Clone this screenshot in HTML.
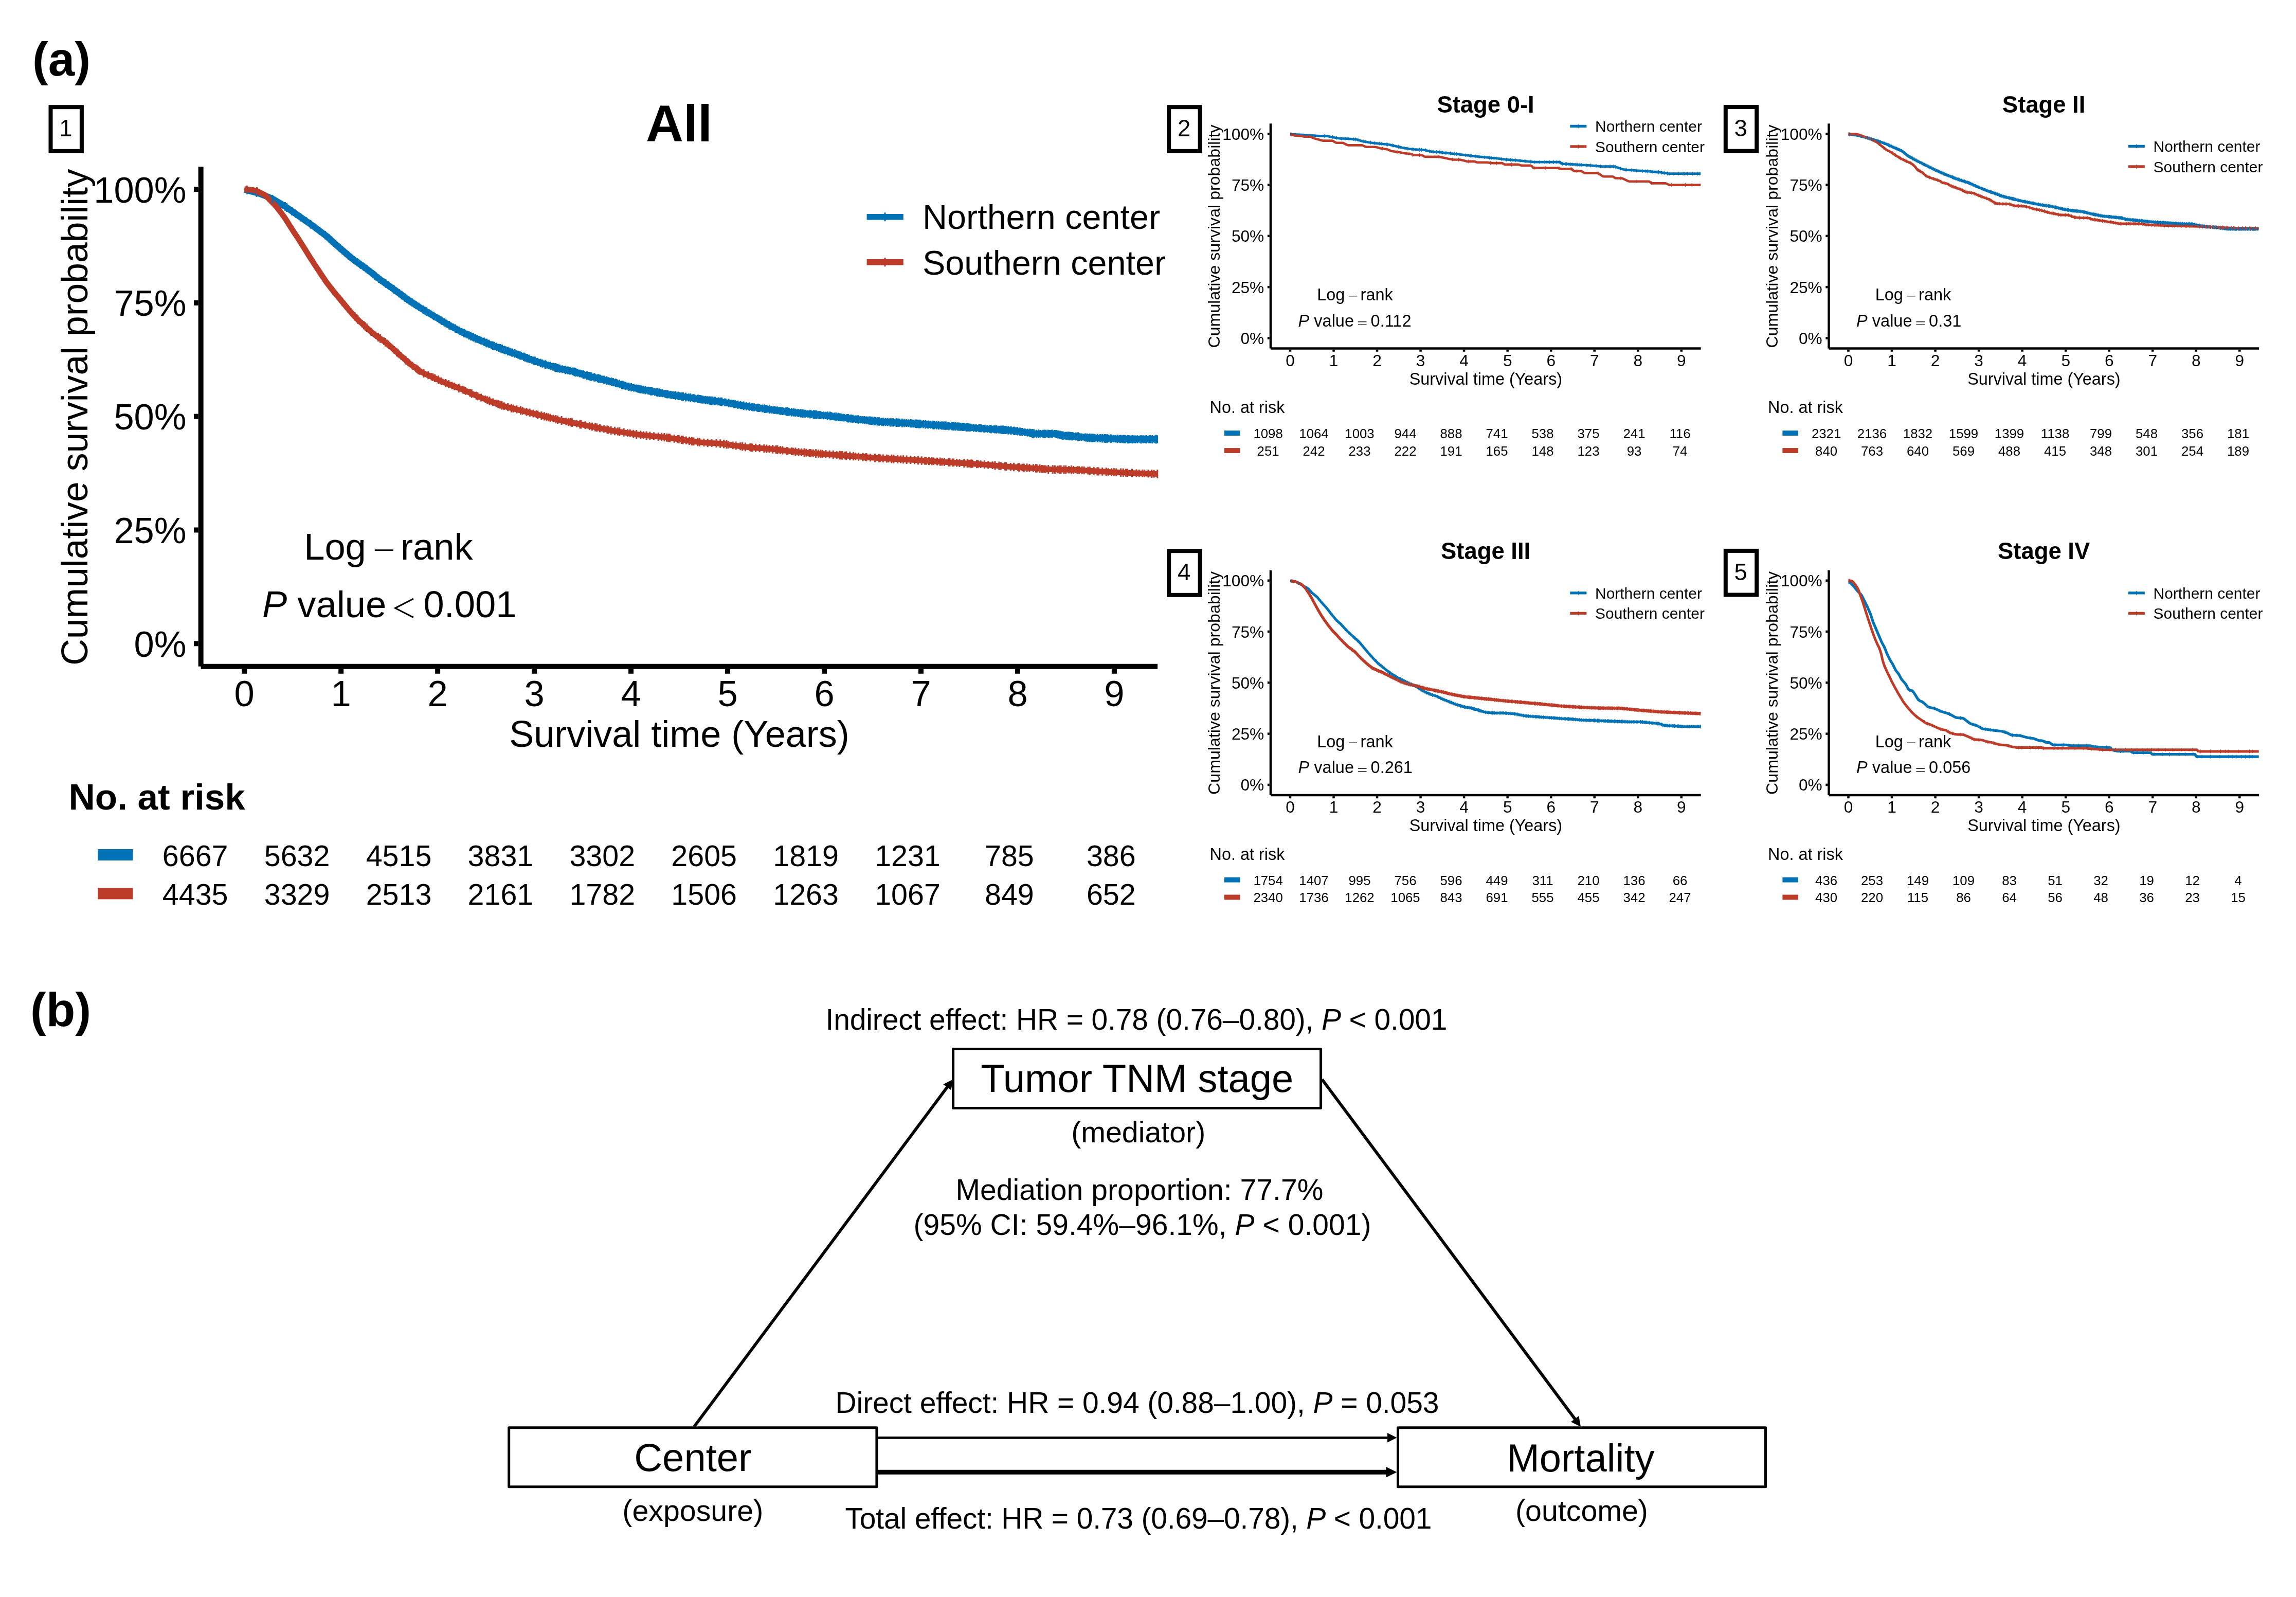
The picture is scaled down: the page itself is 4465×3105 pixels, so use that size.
<!DOCTYPE html>
<html lang="en"><head><meta charset="utf-8"><title>Figure</title>
<style>html,body{margin:0;padding:0;background:#fff}svg{display:block;will-change:transform}</style></head>
<body>
<svg width="4465" height="3105" viewBox="0 0 4465 3105" font-family='"Liberation Sans", sans-serif' fill="#000">
<rect width="4465" height="3105" fill="#fff"/>
<text x="63.0" y="146.5" font-size="92.50" text-anchor="start" font-weight="bold">(a)</text>
<text x="59.0" y="1995.0" font-size="92.50" text-anchor="start" font-weight="bold">(b)</text>
<path d="M475.2,368.5 L483.2,370.5 L491.2,372.6 L499.2,374.6 L507.2,377.3 L515.2,380.5 L523.2,383.7 L531.2,387.4 L539.2,392.2 L547.2,397.0 L555.2,401.8 L563.2,407.4 L571.2,413.0 L579.2,418.6 L587.2,424.2 L595.2,429.8 L603.2,435.4 L611.2,441.2 L619.2,447.2 L627.2,453.2 L635.2,459.3 L643.2,466.5 L651.2,473.7 L659.2,480.9 L667.2,487.8 L675.2,494.6 L683.2,501.4 L691.2,507.5 L699.2,513.1 L707.2,518.7 L715.2,524.5 L723.2,530.9 L731.2,537.3 L739.2,543.7 L747.2,549.4 L755.2,555.0 L763.2,560.6 L771.2,566.4 L779.2,572.4 L787.2,578.4 L795.2,584.1 L803.2,589.3 L811.2,594.5 L819.2,599.7 L827.2,604.5 L835.2,609.3 L843.2,614.1 L851.2,618.9 L859.2,623.8 L867.2,628.6 L875.2,633.2 L883.2,637.6 L891.2,642.0 L899.2,646.1 L907.2,649.8 L915.2,653.4 L923.2,657.0 L931.2,660.4 L939.2,663.8 L947.2,667.3 L955.2,670.6 L963.2,673.6 L971.2,676.6 L979.2,679.6 L987.2,682.5 L995.2,685.3 L1003.2,688.1 L1011.2,691.0 L1019.2,694.0 L1027.2,697.1 L1035.2,700.1 L1043.2,702.8 L1051.2,705.6 L1059.2,708.2 L1067.2,710.6 L1075.2,713.0 L1083.2,715.4 L1091.2,717.4 L1099.2,719.0 L1107.2,720.6 L1115.2,722.4 L1123.2,724.8 L1131.2,727.2 L1139.2,729.6 L1147.2,731.6 L1155.2,733.6 L1163.2,735.6 L1171.2,737.6 L1179.2,739.6 L1187.2,741.6 L1195.2,743.8 L1203.2,746.2 L1211.2,748.6 L1219.2,750.9 L1227.2,752.8 L1235.2,754.6 L1243.2,756.4 L1251.2,757.9 L1259.2,759.2 L1267.2,760.6 L1275.2,762.1 L1283.2,763.7 L1291.2,765.3 L1299.2,766.8 L1307.2,768.0 L1315.2,769.2 L1323.2,770.4 L1331.2,771.6 L1339.2,772.8 L1347.2,774.0 L1355.2,775.2 L1363.2,776.4 L1371.2,777.6 L1379.2,778.6 L1387.2,779.4 L1395.2,780.2 L1403.2,781.2 L1411.2,782.6 L1419.2,784.0 L1427.2,785.5 L1435.2,786.9 L1443.2,788.3 L1451.2,789.8 L1459.2,790.9 L1467.2,792.0 L1475.2,793.1 L1483.2,794.2 L1491.2,795.3 L1499.2,796.5 L1507.2,797.5 L1515.2,798.5 L1523.2,799.5 L1531.2,800.4 L1539.2,801.4 L1547.2,802.3 L1555.2,803.3 L1563.2,804.1 L1571.2,804.8 L1579.2,805.5 L1587.2,806.3 L1595.2,807.0 L1603.2,807.7 L1611.2,808.4 L1619.2,809.4 L1627.2,810.4 L1635.2,811.4 L1643.2,812.4 L1651.2,813.4 L1659.2,814.4 L1667.2,815.3 L1675.2,816.1 L1683.2,816.9 L1691.2,817.7 L1699.2,818.5 L1707.2,819.3 L1715.2,820.1 L1723.2,820.6 L1731.2,821.0 L1739.2,821.4 L1747.2,821.8 L1755.2,822.2 L1763.2,822.6 L1771.2,823.1 L1779.2,823.7 L1787.2,824.2 L1795.2,824.8 L1803.2,825.3 L1811.2,825.9 L1819.2,826.5 L1827.2,827.0 L1835.2,827.5 L1843.2,828.1 L1851.2,828.6 L1859.2,829.1 L1867.2,829.7 L1875.2,830.2 L1883.2,830.9 L1891.2,831.6 L1899.2,832.2 L1907.2,832.8 L1915.2,833.4 L1923.2,834.0 L1931.2,834.5 L1939.2,835.0 L1947.2,835.5 L1955.2,836.0 L1963.2,836.6 L1971.2,837.5 L1979.2,838.5 L1987.2,839.4 L1995.2,840.7 L2003.2,841.9 L2011.2,843.1 L2019.2,843.4 L2027.2,843.4 L2035.2,843.4 L2043.2,843.4 L2051.2,843.4 L2059.2,845.1 L2067.2,846.9 L2075.2,847.4 L2083.2,848.0 L2091.2,848.6 L2099.2,849.3 L2107.2,850.1 L2115.2,850.9 L2123.2,851.4 L2131.2,851.7 L2139.2,852.0 L2147.2,852.3 L2155.2,852.5 L2163.2,852.8 L2171.2,853.1 L2179.2,853.4 L2187.2,853.7 L2195.2,854.1 L2203.2,854.1 L2211.2,854.1 L2219.2,854.1 L2227.2,854.1 L2235.2,854.1 L2243.2,854.1 L2251.1,854.1" fill="none" stroke="#0072B5" stroke-width="12.60" stroke-linejoin="round"/>
<path d="M475.2,367.6 L483.2,368.5 L491.2,369.5 L499.2,371.2 L507.2,375.2 L515.2,379.2 L523.2,386.9 L531.2,395.1 L539.2,403.9 L547.2,414.3 L555.2,425.5 L563.2,438.3 L571.2,450.8 L579.2,462.8 L587.2,475.3 L595.2,488.1 L603.2,500.9 L611.2,513.4 L619.2,525.4 L627.2,537.4 L635.2,549.2 L643.2,559.6 L651.2,569.6 L659.2,579.2 L667.2,588.8 L675.2,598.4 L683.2,608.0 L691.2,616.7 L699.2,624.7 L707.2,632.0 L715.2,639.2 L723.2,646.4 L731.2,652.6 L739.2,658.2 L747.2,663.8 L755.2,669.9 L763.2,677.1 L771.2,684.3 L779.2,691.5 L787.2,698.7 L795.2,705.6 L803.2,712.0 L811.2,717.8 L819.2,723.2 L827.2,727.2 L835.2,730.8 L843.2,734.0 L851.2,737.9 L859.2,741.7 L867.2,744.8 L875.2,747.9 L883.2,751.1 L891.2,754.2 L899.2,757.3 L907.2,760.6 L915.2,764.3 L923.2,767.9 L931.2,771.3 L939.2,774.5 L947.2,777.7 L955.2,780.9 L963.2,783.7 L971.2,786.5 L979.2,789.3 L987.2,791.6 L995.2,793.6 L1003.2,795.6 L1011.2,797.6 L1019.2,799.6 L1027.2,801.6 L1035.2,803.6 L1043.2,805.6 L1051.2,807.6 L1059.2,809.6 L1067.2,811.6 L1075.2,813.6 L1083.2,815.6 L1091.2,817.4 L1099.2,819.0 L1107.2,820.6 L1115.2,822.2 L1123.2,823.8 L1131.2,825.4 L1139.2,827.0 L1147.2,828.6 L1155.2,830.2 L1163.2,831.8 L1171.2,833.4 L1179.2,835.0 L1187.2,836.6 L1195.2,838.0 L1203.2,839.2 L1211.2,840.4 L1219.2,841.6 L1227.2,842.8 L1235.2,844.0 L1243.2,845.2 L1251.2,846.1 L1259.2,846.9 L1267.2,847.7 L1275.2,848.5 L1283.2,849.3 L1291.2,850.1 L1299.2,851.0 L1307.2,852.2 L1315.2,853.4 L1323.2,854.6 L1331.2,855.8 L1339.2,857.0 L1347.2,858.2 L1355.2,859.1 L1363.2,859.9 L1371.2,860.7 L1379.2,861.3 L1387.2,861.7 L1395.2,862.1 L1403.2,862.7 L1411.2,863.8 L1419.2,865.0 L1427.2,866.1 L1435.2,867.1 L1443.2,868.2 L1451.2,869.2 L1459.2,869.9 L1467.2,870.5 L1475.2,871.2 L1483.2,871.8 L1491.2,872.5 L1499.2,873.1 L1507.2,873.8 L1515.2,874.8 L1523.2,875.7 L1531.2,876.7 L1539.2,877.5 L1547.2,878.3 L1555.2,879.1 L1563.2,879.8 L1571.2,880.4 L1579.2,881.0 L1587.2,881.6 L1595.2,882.2 L1603.2,882.8 L1611.2,883.4 L1619.2,884.0 L1627.2,884.6 L1635.2,885.2 L1643.2,885.8 L1651.2,886.4 L1659.2,887.0 L1667.2,887.6 L1675.2,888.2 L1683.2,888.8 L1691.2,889.4 L1699.2,890.0 L1707.2,890.6 L1715.2,891.2 L1723.2,891.6 L1731.2,892.0 L1739.2,892.4 L1747.2,892.8 L1755.2,893.2 L1763.2,893.7 L1771.2,894.1 L1779.2,894.6 L1787.2,895.1 L1795.2,895.6 L1803.2,896.1 L1811.2,896.6 L1819.2,897.1 L1827.2,897.6 L1835.2,898.1 L1843.2,898.7 L1851.2,899.2 L1859.2,899.7 L1867.2,900.2 L1875.2,900.7 L1883.2,901.2 L1891.2,901.7 L1899.2,902.2 L1907.2,902.7 L1915.2,903.3 L1923.2,904.0 L1931.2,904.7 L1939.2,905.4 L1947.2,906.1 L1955.2,906.8 L1963.2,907.5 L1971.2,908.0 L1979.2,908.5 L1987.2,909.0 L1995.2,909.5 L2003.2,909.9 L2011.2,910.3 L2019.2,910.9 L2027.2,911.6 L2035.2,912.2 L2043.2,912.6 L2051.2,912.8 L2059.2,912.9 L2067.2,913.1 L2075.2,913.3 L2083.2,913.4 L2091.2,913.6 L2099.2,914.1 L2107.2,914.6 L2115.2,915.1 L2123.2,915.6 L2131.2,916.1 L2139.2,916.7 L2147.2,917.1 L2155.2,917.5 L2163.2,917.9 L2171.2,918.3 L2179.2,918.7 L2187.2,919.1 L2195.2,919.5 L2203.2,919.8 L2211.2,920.1 L2219.2,920.4 L2227.2,920.7 L2235.2,920.9 L2243.2,921.2 L2251.1,921.5" fill="none" stroke="#BC3C29" stroke-width="11.00" stroke-linejoin="round"/>
<path d="M480.7,361.9v15.9M498.9,366.2v16.6M530.0,378.7v16.3M548.5,390.5v14.5M554.4,392.9v16.9M557.5,395.0v16.9M567.5,402.0v16.8M574.7,407.4v16.2M584.7,414.4v16.2M595.7,422.3v15.7M604.0,427.6v16.9M612.2,434.4v15.2M621.8,441.5v15.3M632.5,449.0v16.5M640.3,455.5v16.8M644.8,459.6v16.7M649.4,464.2v15.6M652.0,466.8v15.3M654.1,469.1v14.5M659.2,472.8v16.2M661.1,474.3v16.3M666.0,478.6v16.4M668.1,481.2v14.6M671.0,483.2v15.8M674.2,486.3v14.9M677.6,488.4v16.6M681.1,492.1v15.0M685.6,495.0v16.5M688.5,497.9v15.1M690.0,498.9v15.3M694.9,502.1v16.0M697.3,503.9v15.7M699.8,505.6v15.8M701.9,507.0v16.0M706.4,510.3v15.7M708.2,511.7v15.6M712.0,514.4v15.5M714.4,515.6v16.7M718.6,519.9v14.6M722.4,522.2v16.2M725.7,525.1v15.6M728.6,526.8v16.9M731.4,529.5v15.9M736.7,533.4v16.6M740.3,536.7v15.5M746.1,541.0v15.2M750.0,543.0v16.8M753.9,546.4v15.3M755.7,547.2v16.2M759.5,550.1v15.8M763.5,553.4v14.8M766.0,554.3v16.7M770.8,558.6v14.9M776.2,562.1v16.2M781.2,565.5v16.7M784.0,568.6v14.7M787.7,570.4v16.7M790.8,572.7v16.5M795.8,576.5v16.0M798.9,578.9v15.3M801.6,580.3v15.8M804.7,582.8v15.0M806.2,583.9v14.8M808.1,585.1v14.8M809.3,585.4v15.8M814.4,588.4v16.3M817.8,591.4v14.7M823.3,593.7v16.9M825.9,595.9v15.7M827.7,596.9v15.9M829.5,597.5v16.8M834.6,601.6v14.7M837.9,603.5v14.8M839.3,604.5v14.5M843.4,606.1v16.2M845.9,608.4v14.6M851.2,611.6v14.5M854.1,613.0v15.4M858.3,615.3v15.9M859.9,616.4v15.7M864.3,619.0v15.7M868.2,621.6v15.1M873.7,624.1v16.6M877.0,626.8v14.8M880.8,628.7v15.1M885.5,630.6v16.6M888.9,633.5v14.5M893.5,634.9v16.4M897.8,638.1v14.6M902.4,639.2v16.7M905.0,641.1v15.2M908.6,642.8v15.1M911.8,643.5v16.7M915.6,645.5v16.3M918.8,647.6v14.8M920.7,647.8v16.1M924.7,649.2v16.9M928.1,651.1v16.0M932.0,653.2v15.1M934.0,654.2v14.9M935.8,654.9v15.0M941.5,656.5v16.6M945.4,658.5v16.0M946.9,658.7v16.9M950.9,660.6v16.5M955.5,663.5v14.5M958.1,663.5v16.4M960.7,664.8v15.7M965.7,666.3v16.4M970.5,668.6v15.4M973.2,669.0v16.6M976.5,670.1v17.0M980.8,671.9v16.5M983.2,673.3v15.6M987.4,674.3v16.6M989.1,675.6v15.0M991.9,676.4v15.4M994.7,677.5v15.2M996.0,677.4v16.4M1001.0,679.0v16.6M1004.5,681.3v14.6M1007.7,681.7v16.0M1011.0,682.5v16.8M1013.5,684.1v15.5M1018.6,685.6v16.4M1020.4,686.3v16.4M1023.0,687.7v15.6M1025.2,687.9v16.8M1028.9,689.5v16.4M1033.8,692.0v15.2M1038.0,693.2v15.7M1040.4,693.6v16.5M1045.6,695.8v15.7M1051.2,697.4v16.4M1054.9,698.9v15.9M1060.4,700.2v16.7M1062.2,701.4v15.4M1066.4,703.0v14.8M1070.5,703.2v16.9M1075.5,705.4v15.4M1079.6,706.0v16.6M1080.9,706.3v16.8M1083.9,707.4v16.5M1085.5,708.3v15.4M1088.5,708.8v16.0M1093.4,710.2v15.4M1098.7,711.5v14.8M1100.0,710.9v16.6M1104.4,712.4v15.3M1108.4,713.3v15.2M1113.3,714.4v15.2M1116.7,714.5v16.8M1118.9,715.2v16.7M1120.2,716.4v15.0M1123.1,717.2v15.1M1127.2,718.6v14.8M1130.8,719.7v14.6M1134.1,719.9v16.3M1135.8,720.9v15.5M1141.5,721.9v16.6M1145.3,723.0v16.3M1147.7,723.5v16.5M1149.9,723.9v16.8M1155.6,725.6v16.2M1157.2,726.5v15.2M1162.4,727.6v15.6M1164.2,727.6v16.5M1167.3,728.6v16.1M1170.7,730.2v14.6M1174.5,730.6v15.6M1179.9,731.5v16.5M1183.7,733.3v14.9M1189.1,733.9v16.5M1192.5,735.1v16.0M1197.1,736.1v16.5M1199.3,737.1v15.8M1204.5,738.2v16.8M1209.6,740.2v15.7M1211.5,740.4v16.5M1214.4,741.7v15.6M1216.8,742.6v15.3M1221.5,743.8v15.3M1223.0,743.7v16.2M1227.5,744.9v16.0M1232.5,746.6v14.8M1237.4,747.5v15.1M1240.8,747.8v16.0M1243.9,748.5v16.0M1245.8,749.2v15.5M1247.2,749.6v15.0M1250.7,750.1v15.3M1254.9,750.4v16.2M1260.4,751.7v15.4M1263.0,752.3v15.1M1265.5,752.0v16.7M1267.3,752.5v16.2M1268.9,753.4v15.0M1273.4,754.1v15.4M1277.4,754.6v15.8M1278.7,754.4v16.8M1282.1,755.3v16.4M1284.6,756.6v14.8M1288.1,757.0v15.3M1293.2,758.1v15.1M1295.3,758.5v15.2M1297.1,758.4v16.1M1298.9,759.0v15.6M1303.4,759.8v15.2M1306.6,760.4v15.1M1310.4,761.0v15.0M1313.8,760.5v17.0M1318.8,761.4v16.7M1322.2,762.5v15.4M1325.9,762.7v16.2M1328.5,763.0v16.5M1333.6,763.5v16.9M1339.0,764.9v15.7M1342.8,765.1v16.5M1347.9,766.0v16.1M1350.9,766.7v15.7M1356.7,767.4v16.0M1358.3,767.2v16.9M1361.4,768.1v16.0M1363.8,768.5v16.0M1366.9,769.2v15.5M1370.8,770.3v14.5M1372.3,769.7v16.0M1376.0,770.3v15.7M1379.6,770.5v16.3M1382.3,770.7v16.3M1384.9,771.1v16.2M1389.0,771.2v16.7M1391.4,771.6v16.5M1397.0,772.5v15.8M1400.8,772.8v16.2M1403.8,772.8v17.0M1409.5,774.6v15.4M1411.5,775.3v14.7M1417.1,775.2v16.9M1421.7,777.0v14.9M1423.2,777.5v14.5M1427.0,777.4v16.1M1429.4,778.2v15.3M1435.0,778.8v16.2M1439.9,780.0v15.4M1442.6,780.9v14.6M1446.1,780.4v16.8M1451.5,781.7v16.3M1457.1,782.3v16.5M1462.2,783.8v15.1M1463.6,783.4v16.2M1466.6,784.2v15.5M1471.9,785.1v15.1M1474.1,784.7v16.4M1477.1,785.8v15.2M1482.8,786.6v15.1M1486.5,786.2v16.8M1489.3,787.4v15.3M1491.1,788.0v14.6M1496.5,787.9v16.3M1500.4,789.2v14.9M1504.0,789.7v14.9M1507.1,790.0v14.9M1511.2,790.3v15.3M1515.6,791.2v14.7M1518.7,791.2v15.5M1522.2,791.8v15.2M1527.4,792.2v15.4M1529.8,791.8v16.9M1531.6,792.0v16.8M1534.3,793.1v15.3M1539.4,793.1v16.7M1543.5,794.0v15.7M1546.8,794.6v15.4M1551.0,795.4v14.7M1553.1,795.0v16.1M1557.5,795.6v15.8M1561.3,796.0v15.9M1565.0,796.6v15.3M1566.6,797.0v14.9M1571.2,797.4v14.7M1575.1,796.7v16.8M1577.7,798.1v14.6M1581.9,797.6v16.4M1583.4,797.6v16.6M1585.6,797.7v16.9M1587.8,798.0v16.8M1591.3,799.3v14.7M1594.4,799.1v15.8M1596.2,799.8v14.6M1601.6,799.9v15.3M1605.6,800.6v14.5M1609.2,800.0v16.5M1614.2,800.3v16.9M1616.5,801.3v15.5M1617.9,802.0v14.5M1622.6,802.2v15.3M1625.9,801.9v16.6M1630.0,802.4v16.7M1633.2,803.6v15.1M1635.5,803.9v15.1M1639.9,804.6v14.8M1641.6,804.9v14.6M1647.0,805.0v15.7M1649.5,804.9v16.7M1653.4,806.1v15.2M1655.4,806.1v15.7M1658.6,806.6v15.4M1663.2,807.6v14.5M1666.8,807.4v15.7M1669.2,807.2v16.6M1674.0,808.7v14.5M1678.1,809.1v14.6M1681.5,808.9v15.6M1685.5,809.4v15.4M1690.0,809.5v16.1M1691.9,809.6v16.2M1694.4,809.9v16.3M1696.0,810.1v16.1M1700.0,810.2v16.7M1702.3,810.7v16.3M1706.1,810.9v16.6M1707.4,811.6v15.5M1709.6,811.3v16.5M1714.7,812.5v15.2M1716.0,812.7v14.8M1717.9,812.0v16.6M1722.1,812.8v15.4M1726.2,812.8v15.8M1731.1,812.7v16.5M1732.4,812.7v16.7M1736.7,813.0v16.6M1741.0,814.0v14.9M1743.2,813.2v16.7M1746.6,813.4v16.7M1749.2,813.9v15.9M1754.3,813.7v17.0M1758.3,814.2v16.4M1762.4,815.1v15.0M1766.4,815.3v15.0M1770.4,814.8v16.5M1772.6,815.2v16.1M1775.7,815.8v15.4M1780.1,815.4v16.7M1783.1,815.5v16.9M1785.8,816.6v15.1M1787.3,815.7v17.0M1788.6,815.8v17.0M1790.6,816.6v15.7M1795.6,817.0v15.6M1799.6,816.7v16.7M1803.2,818.0v14.6M1805.0,817.4v16.1M1809.8,818.1v15.4M1814.6,817.8v16.7M1816.5,817.9v16.8M1817.8,818.6v15.5M1821.6,818.5v16.3M1825.4,818.5v16.8M1829.4,819.7v14.8M1831.8,819.2v16.2M1833.2,820.0v14.7M1835.8,819.2v16.6M1839.4,819.5v16.6M1843.8,820.2v15.8M1845.2,819.9v16.7M1850.9,820.6v16.0M1853.2,820.4v16.6M1855.1,820.5v16.7M1858.5,820.8v16.4M1862.8,821.2v16.4M1865.7,821.6v15.9M1868.6,821.9v15.8M1872.4,822.1v15.9M1875.3,822.7v15.0M1879.0,822.4v16.3M1880.5,822.5v16.4M1882.8,822.8v16.0M1885.5,823.4v15.5M1887.7,823.8v14.9M1893.5,824.0v15.6M1898.1,824.4v15.5M1903.9,824.8v15.5M1905.6,825.1v15.1M1907.9,825.1v15.5M1913.3,825.9v14.8M1915.1,825.8v15.2M1920.3,826.0v15.5M1924.6,826.5v15.1M1927.3,826.0v16.4M1931.9,827.3v14.5M1934.7,827.0v15.5M1938.0,827.0v15.8M1942.6,827.7v15.1M1946.1,827.6v15.7M1948.5,827.4v16.3M1950.8,827.3v16.8M1952.6,827.9v15.8M1954.2,828.1v15.7M1955.6,828.1v15.8M1957.4,828.7v14.9M1961.0,828.0v16.8M1966.0,828.5v16.8M1971.1,830.0v15.0M1972.5,829.5v16.4M1974.7,830.7v14.6M1977.1,830.7v15.1M1978.8,830.3v16.3M1983.6,831.2v15.7M1987.5,831.9v15.2M1992.9,832.9v14.9M1998.6,833.6v15.2M2002.8,833.5v16.6M2004.7,834.5v15.2M2007.6,834.1v16.9M2010.5,834.5v17.0M2015.5,835.4v15.7M2019.6,834.9v16.9M2022.9,836.0v14.8M2028.3,835.7v15.5M2030.9,835.6v15.6M2033.5,835.6v15.5M2038.3,835.5v15.7M2039.8,835.8v15.1M2041.6,836.1v14.6M2044.7,836.0v14.7M2046.2,835.2v16.4M2050.5,836.1v14.5M2053.6,836.0v15.8M2055.2,836.8v15.0M2057.5,836.9v15.6M2061.1,837.5v16.0M2062.8,838.4v15.1M2064.7,838.2v16.3M2067.3,838.8v16.2M2071.2,839.8v14.7M2073.8,839.5v15.7M2077.1,839.2v16.7M2080.0,839.4v16.8M2081.7,840.1v15.6M2084.8,839.9v16.5M2086.8,840.6v15.4M2092.2,840.8v15.7M2096.5,840.6v16.9M2099.6,841.7v15.2M2103.3,842.4v14.7M2108.8,843.0v14.5M2111.1,842.4v16.2M2114.6,842.8v16.1M2116.5,843.7v14.7M2119.3,842.8v16.8M2122.7,843.2v16.3M2124.4,843.2v16.5M2126.2,843.6v15.7M2129.1,843.7v15.7M2134.1,843.6v16.4M2139.6,843.9v16.2M2143.3,843.8v16.8M2147.7,843.9v16.9M2149.6,843.9v17.0M2152.9,844.0v17.0M2154.7,845.2v14.5M2159.4,844.5v16.3M2161.6,844.7v16.1M2165.4,845.5v14.8M2168.9,845.7v14.7M2172.9,844.9v16.6M2176.9,845.8v15.0M2179.9,845.5v15.8M2183.7,845.7v15.7M2185.3,845.4v16.5M2188.3,845.7v16.2M2192.5,845.7v16.5M2195.1,845.9v16.3M2197.2,846.8v14.6M2199.8,846.7v14.7M2202.2,845.8v16.5M2204.9,846.6v14.9M2207.8,846.4v15.5M2211.8,846.2v15.9M2217.6,846.6v15.0M2219.1,845.9v16.5M2222.9,846.2v15.8M2226.4,846.7v14.7M2229.0,845.9v16.4M2234.6,846.8v14.6M2236.6,846.1v16.0M2240.9,846.0v16.2M2246.0,846.4v15.4M2248.3,845.6v17.0M2250.6,846.3v15.7" fill="none" stroke="#0072B5" stroke-width="3.00"/>
<path d="M480.2,360.8v14.6M499.4,363.7v15.2M538.1,394.6v16.2M547.2,406.3v16.0M554.9,417.3v15.7M567.6,437.0v16.4M583.2,461.2v15.6M597.0,482.4v17.0M612.5,507.6v15.4M622.7,522.5v16.1M640.1,548.2v14.9M647.8,556.9v17.0M652.4,563.2v15.7M655.5,567.2v15.1M661.0,573.5v15.7M665.8,578.8v16.6M670.5,584.7v16.0M672.8,588.1v14.8M677.0,592.8v15.3M682.3,599.0v15.6M689.9,607.1v16.3M693.4,610.9v15.9M695.8,612.9v16.9M704.4,622.1v14.7M707.6,624.2v16.4M710.6,626.6v16.9M713.3,629.1v16.8M722.0,637.6v15.4M730.4,644.6v14.7M735.5,647.3v16.6M739.6,650.1v16.7M746.7,656.1v14.6M749.4,657.1v16.7M753.3,660.6v15.6M755.6,662.2v16.2M763.6,670.1v14.8M766.8,673.0v14.8M771.4,676.0v17.0M773.7,678.4v16.2M776.3,681.4v15.0M780.3,685.1v14.8M787.7,691.8v14.6M789.9,692.9v16.3M793.6,696.8v14.8M796.2,698.6v15.5M802.1,703.4v15.3M808.5,708.3v15.2M810.9,709.4v16.2M813.2,711.0v16.4M815.9,713.4v15.3M824.0,717.4v16.5M832.7,722.1v15.1M839.1,725.1v14.6M841.5,726.0v14.6M845.6,727.5v15.4M852.6,730.2v16.7M858.2,733.8v14.8M866.9,737.1v15.2M872.6,739.1v15.5M879.0,742.2v14.5M883.7,743.8v15.0M892.3,746.3v16.7M900.1,750.1v15.1M902.7,751.4v14.6M905.2,751.9v15.8M914.0,755.9v15.7M917.2,757.1v16.3M926.1,761.5v15.3M928.9,762.4v15.8M935.6,765.6v14.8M944.0,768.9v15.1M947.7,770.4v14.9M952.0,771.2v16.9M958.6,774.6v15.0M965.0,776.9v14.9M968.6,777.8v15.5M970.8,778.7v15.3M972.7,779.6v14.8M975.9,779.8v16.8M980.3,782.3v14.6M987.6,784.1v15.2M994.3,785.0v16.7M998.0,786.5v15.6M1004.8,788.3v15.4M1012.5,789.5v16.8M1016.3,791.5v14.8M1024.1,793.0v15.7M1030.2,794.6v15.5M1037.1,796.6v15.0M1043.1,798.0v15.1M1045.9,798.6v15.3M1052.9,800.1v15.8M1058.4,801.2v16.3M1063.0,802.8v15.5M1066.6,803.6v15.7M1070.1,804.4v15.9M1075.9,806.5v14.6M1080.9,806.9v16.3M1084.5,808.0v15.9M1092.1,809.1v17.0M1100.9,812.0v14.8M1105.3,812.5v15.4M1109.1,812.9v16.1M1112.4,813.2v16.9M1121.3,816.1v14.6M1127.9,816.3v16.9M1130.0,816.7v16.9M1138.1,819.2v15.1M1146.4,820.6v15.7M1151.6,821.7v15.5M1157.6,822.6v16.1M1160.8,823.2v16.3M1166.5,824.5v15.9M1174.3,826.7v14.6M1181.0,827.3v16.0M1182.9,827.9v15.6M1188.1,828.6v16.4M1195.4,829.8v16.5M1201.4,831.3v15.2M1204.8,831.0v16.9M1213.1,832.6v16.2M1220.3,834.2v15.2M1225.2,835.1v14.7M1231.8,835.7v15.6M1237.7,835.9v17.0M1245.8,837.4v16.2M1251.4,838.6v15.0M1257.0,838.4v16.6M1263.8,839.4v15.9M1271.5,840.4v15.4M1280.3,841.0v15.9M1286.6,841.5v16.2M1292.0,842.0v16.3M1296.5,842.7v16.0M1299.8,843.2v15.8M1302.7,843.3v16.4M1311.2,845.0v15.7M1318.2,846.1v15.4M1320.3,846.3v15.7M1325.4,846.9v16.0M1328.1,846.9v16.9M1334.4,848.6v15.3M1340.4,849.1v16.0M1344.9,849.8v16.2M1346.8,850.4v15.5M1349.1,850.5v15.8M1357.0,851.1v16.3M1360.5,851.3v16.6M1369.0,852.7v15.6M1376.2,852.9v16.3M1384.0,854.0v15.2M1393.0,854.0v15.9M1400.7,854.3v16.4M1407.5,855.1v16.4M1413.1,855.9v16.5M1416.6,857.3v14.7M1425.2,858.4v14.8M1431.1,858.6v16.0M1439.7,860.2v15.1M1443.8,860.1v16.4M1449.6,860.5v16.9M1458.2,862.6v14.5M1460.1,862.0v15.9M1462.8,862.5v15.4M1469.7,862.8v15.9M1477.1,863.3v16.0M1485.9,864.1v15.9M1490.8,864.4v16.2M1496.1,865.3v15.1M1502.7,865.1v16.6M1509.0,866.0v16.1M1512.1,865.9v16.9M1517.3,866.9v16.2M1521.7,867.5v16.0M1529.8,868.9v15.2M1531.8,869.5v14.6M1539.3,870.1v14.9M1542.2,870.4v14.8M1547.0,870.3v16.0M1553.0,871.2v15.3M1558.6,872.0v14.9M1564.1,871.4v16.9M1568.0,872.5v15.3M1574.1,873.1v15.0M1576.8,873.0v15.6M1581.3,873.8v14.8M1586.6,873.2v16.8M1591.6,874.2v15.5M1596.0,874.2v16.2M1599.6,874.7v15.6M1605.9,875.1v15.8M1613.2,875.8v15.5M1620.4,875.8v16.7M1627.2,877.2v14.8M1632.5,876.6v16.8M1635.5,877.2v16.0M1638.2,877.1v16.6M1643.4,878.3v15.0M1645.8,877.5v17.0M1652.8,878.1v16.8M1659.6,878.8v16.5M1663.8,879.9v14.8M1669.6,879.9v15.8M1678.1,880.5v15.9M1683.1,881.6v14.5M1685.0,880.9v16.0M1692.6,881.9v15.3M1701.5,881.9v16.5M1708.9,882.6v16.3M1711.4,883.6v14.6M1717.3,883.6v15.4M1724.4,883.8v15.8M1727.8,884.5v14.6M1733.9,883.8v16.6M1737.9,883.9v16.9M1745.7,884.5v16.5M1751.6,885.5v15.0M1756.7,885.2v16.1M1763.1,885.4v16.5M1770.8,886.3v15.6M1778.7,886.8v15.6M1785.4,886.6v16.7M1792.2,887.2v16.5M1798.5,888.1v15.3M1801.2,888.3v15.4M1806.5,888.3v15.9M1812.1,888.8v15.8M1815.7,889.5v14.7M1822.5,889.7v15.1M1828.3,889.5v16.3M1831.8,890.3v15.1M1836.4,890.3v15.8M1844.7,890.7v16.2M1847.0,891.0v15.8M1852.4,891.4v15.8M1854.5,891.6v15.5M1860.5,891.9v15.7M1865.9,892.2v15.9M1874.8,892.3v16.7M1881.2,892.9v16.3M1883.8,893.7v15.1M1885.8,894.0v14.7M1888.5,893.3v16.4M1891.2,893.8v15.8M1899.5,894.2v16.1M1901.6,894.9v14.9M1907.0,895.3v14.8M1914.5,895.2v16.1M1921.8,896.3v15.1M1930.1,897.2v14.8M1935.0,896.6v16.9M1942.9,897.4v16.6M1946.3,898.3v15.4M1954.4,899.0v15.4M1956.7,898.6v16.7M1965.3,899.9v15.4M1971.5,899.8v16.4M1979.5,901.2v14.7M1981.8,900.2v17.0M1987.9,901.8v14.5M1991.4,901.6v15.3M1997.1,901.2v16.7M2001.9,902.1v15.5M2009.5,902.3v15.8M2014.4,902.2v16.6M2016.7,903.0v15.5M2022.0,903.1v16.1M2025.5,903.9v15.1M2028.1,904.2v15.0M2031.4,904.6v14.6M2033.7,904.7v14.8M2038.7,903.9v17.0M2047.2,904.2v16.9M2051.4,904.7v16.2M2057.3,905.5v14.8M2060.7,904.7v16.5M2063.1,904.7v16.6M2069.1,904.8v16.7M2072.8,904.9v16.7M2078.7,906.0v14.6M2083.4,905.0v16.8M2087.6,905.8v15.5M2095.0,906.3v15.1M2098.6,906.6v15.0M2104.2,906.7v15.4M2108.2,907.1v15.2M2115.9,907.6v15.0M2119.3,907.3v16.2M2127.2,907.7v16.4M2133.9,908.2v16.2M2136.2,908.4v16.1M2143.7,909.1v15.7M2151.2,909.3v16.0M2155.1,910.2v14.6M2161.5,910.2v15.3M2166.4,910.2v15.8M2170.7,910.6v15.3M2179.6,910.6v16.3M2184.4,910.8v16.3M2189.5,911.6v15.2M2192.6,911.4v15.9M2201.5,911.6v16.3M2209.9,912.6v15.0M2215.2,912.9v14.6M2221.8,913.1v14.8M2225.4,913.3v14.7M2232.9,913.3v15.1M2239.6,913.1v15.8M2244.0,913.7v15.0M2250.8,913.1v16.8" fill="none" stroke="#BC3C29" stroke-width="3.00"/>
<line x1="390.65" y1="323.90" x2="390.65" y2="1295.70" stroke="#000" stroke-width="10.00" />
<line x1="390.65" y1="1295.70" x2="2251.10" y2="1295.70" stroke="#000" stroke-width="10.00" />
<line x1="377.00" y1="368.00" x2="385.70" y2="368.00" stroke="#000" stroke-width="10.00" />
<text x="362.5" y="393.6" font-size="70.50" text-anchor="end">100%</text>
<line x1="377.00" y1="588.83" x2="385.70" y2="588.83" stroke="#000" stroke-width="10.00" />
<text x="362.5" y="614.4" font-size="70.50" text-anchor="end">75%</text>
<line x1="377.00" y1="809.66" x2="385.70" y2="809.66" stroke="#000" stroke-width="10.00" />
<text x="362.5" y="835.3" font-size="70.50" text-anchor="end">50%</text>
<line x1="377.00" y1="1030.49" x2="385.70" y2="1030.49" stroke="#000" stroke-width="10.00" />
<text x="362.5" y="1056.1" font-size="70.50" text-anchor="end">25%</text>
<line x1="377.00" y1="1251.32" x2="385.70" y2="1251.32" stroke="#000" stroke-width="10.00" />
<text x="362.5" y="1276.9" font-size="70.50" text-anchor="end">0%</text>
<line x1="475.20" y1="1300.60" x2="475.20" y2="1309.80" stroke="#000" stroke-width="10.00" />
<text x="475.2" y="1372.5" font-size="70.50" text-anchor="middle">0</text>
<line x1="663.17" y1="1300.60" x2="663.17" y2="1309.80" stroke="#000" stroke-width="10.00" />
<text x="663.2" y="1372.5" font-size="70.50" text-anchor="middle">1</text>
<line x1="851.14" y1="1300.60" x2="851.14" y2="1309.80" stroke="#000" stroke-width="10.00" />
<text x="851.1" y="1372.5" font-size="70.50" text-anchor="middle">2</text>
<line x1="1039.11" y1="1300.60" x2="1039.11" y2="1309.80" stroke="#000" stroke-width="10.00" />
<text x="1039.1" y="1372.5" font-size="70.50" text-anchor="middle">3</text>
<line x1="1227.08" y1="1300.60" x2="1227.08" y2="1309.80" stroke="#000" stroke-width="10.00" />
<text x="1227.1" y="1372.5" font-size="70.50" text-anchor="middle">4</text>
<line x1="1415.05" y1="1300.60" x2="1415.05" y2="1309.80" stroke="#000" stroke-width="10.00" />
<text x="1415.0" y="1372.5" font-size="70.50" text-anchor="middle">5</text>
<line x1="1603.02" y1="1300.60" x2="1603.02" y2="1309.80" stroke="#000" stroke-width="10.00" />
<text x="1603.0" y="1372.5" font-size="70.50" text-anchor="middle">6</text>
<line x1="1790.99" y1="1300.60" x2="1790.99" y2="1309.80" stroke="#000" stroke-width="10.00" />
<text x="1791.0" y="1372.5" font-size="70.50" text-anchor="middle">7</text>
<line x1="1978.96" y1="1300.60" x2="1978.96" y2="1309.80" stroke="#000" stroke-width="10.00" />
<text x="1979.0" y="1372.5" font-size="70.50" text-anchor="middle">8</text>
<line x1="2166.93" y1="1300.60" x2="2166.93" y2="1309.80" stroke="#000" stroke-width="10.00" />
<text x="2166.9" y="1372.5" font-size="70.50" text-anchor="middle">9</text>
<text x="1321.0" y="1452.0" font-size="72.00" text-anchor="middle">Survival time (Years)</text>
<text transform="translate(169.5,811.0) rotate(-90)" font-size="71.50" text-anchor="middle">Cumulative survival probability</text>
<text x="1320.5" y="274.7" font-size="101.00" text-anchor="middle" font-weight="bold">All</text>
<line x1="1685.60" y1="421.70" x2="1756.80" y2="421.70" stroke="#0072B5" stroke-width="11.40" />
<line x1="1721.00" y1="413.20" x2="1721.00" y2="430.20" stroke="#0072B5" stroke-width="3.00" />
<text x="1794.0" y="445.4" font-size="66.50" text-anchor="start">Northern center</text>
<line x1="1685.60" y1="509.70" x2="1756.80" y2="509.70" stroke="#BC3C29" stroke-width="11.40" />
<line x1="1721.00" y1="501.20" x2="1721.00" y2="518.20" stroke="#BC3C29" stroke-width="3.00" />
<text x="1794.0" y="533.6" font-size="66.50" text-anchor="start">Southern center</text>
<text x="591.2" y="1088.4" font-size="72.30" text-anchor="start">Log</text>
<line x1="728.90" y1="1069.60" x2="764.80" y2="1069.60" stroke="#000" stroke-width="2.80" />
<text x="779.0" y="1088.4" font-size="72.30" text-anchor="start">rank</text>
<text x="510.0" y="1200.4" font-size="72.30"><tspan font-style="italic">P</tspan> value</text>
<polyline points="803.9,1164.2 768.5,1182.3 803.9,1200.4" fill="none" stroke="#000" stroke-width="3.00" stroke-linejoin="miter"/>
<text x="823.5" y="1200.4" font-size="72.30" text-anchor="start">0.001</text>
<text x="133.5" y="1573.5" font-size="71.00" text-anchor="start" font-weight="bold">No. at risk</text>
<rect x="190.30" y="1651.00" width="68.10" height="22.00" fill="#0072B5"/>
<rect x="190.30" y="1726.40" width="68.10" height="22.00" fill="#BC3C29"/>
<text x="379.7" y="1684.0" font-size="57.40" text-anchor="middle">6667</text>
<text x="577.6" y="1684.0" font-size="57.40" text-anchor="middle">5632</text>
<text x="775.5" y="1684.0" font-size="57.40" text-anchor="middle">4515</text>
<text x="973.4" y="1684.0" font-size="57.40" text-anchor="middle">3831</text>
<text x="1171.3" y="1684.0" font-size="57.40" text-anchor="middle">3302</text>
<text x="1369.2" y="1684.0" font-size="57.40" text-anchor="middle">2605</text>
<text x="1567.1" y="1684.0" font-size="57.40" text-anchor="middle">1819</text>
<text x="1765.0" y="1684.0" font-size="57.40" text-anchor="middle">1231</text>
<text x="1962.9" y="1684.0" font-size="57.40" text-anchor="middle">785</text>
<text x="2160.8" y="1684.0" font-size="57.40" text-anchor="middle">386</text>
<text x="379.7" y="1759.0" font-size="57.40" text-anchor="middle">4435</text>
<text x="577.6" y="1759.0" font-size="57.40" text-anchor="middle">3329</text>
<text x="775.5" y="1759.0" font-size="57.40" text-anchor="middle">2513</text>
<text x="973.4" y="1759.0" font-size="57.40" text-anchor="middle">2161</text>
<text x="1171.3" y="1759.0" font-size="57.40" text-anchor="middle">1782</text>
<text x="1369.2" y="1759.0" font-size="57.40" text-anchor="middle">1506</text>
<text x="1567.1" y="1759.0" font-size="57.40" text-anchor="middle">1263</text>
<text x="1765.0" y="1759.0" font-size="57.40" text-anchor="middle">1067</text>
<text x="1962.9" y="1759.0" font-size="57.40" text-anchor="middle">849</text>
<text x="2160.8" y="1759.0" font-size="57.40" text-anchor="middle">652</text>
<rect x="98.5" y="208.2" width="60.4" height="85.6" fill="none" stroke="#000" stroke-width="8.0"/>
<text x="127.9" y="265.4" font-size="45.50" text-anchor="middle">1</text>
<path d="M2509.0,260.9 L2511.5,261.0 L2514.0,261.1 L2516.5,261.3 L2519.0,261.4 L2521.5,261.5 L2524.0,261.7 L2526.5,261.8 L2529.0,261.9 L2531.5,262.1 L2534.0,262.2 L2536.5,262.4 L2539.0,262.5 L2541.5,262.7 L2544.0,262.9 L2546.5,263.0 L2549.0,263.2 L2551.5,263.3 L2554.0,263.5 L2556.5,263.7 L2559.0,263.9 L2561.5,264.0 L2564.0,264.2 L2566.5,264.3 L2569.0,264.4 L2571.5,264.4 L2574.0,264.5 L2576.5,264.5 L2579.0,264.6 L2581.5,264.6 L2584.0,265.1 L2586.5,265.7 L2589.0,266.2 L2591.5,266.7 L2594.0,267.3 L2596.5,267.7 L2599.0,268.1 L2601.5,268.6 L2604.0,269.0 L2606.5,269.3 L2609.0,269.4 L2611.5,269.5 L2614.0,269.5 L2616.5,269.6 L2619.0,269.7 L2621.5,269.7 L2624.0,270.0 L2626.5,270.2 L2629.0,270.5 L2631.5,270.7 L2634.0,271.0 L2636.5,271.2 L2639.0,271.5 L2641.5,272.1 L2644.0,272.9 L2646.5,273.7 L2649.0,274.5 L2651.5,275.0 L2654.0,275.4 L2656.5,275.8 L2659.0,276.2 L2661.5,276.7 L2664.0,277.1 L2666.5,277.5 L2669.0,277.9 L2671.5,278.1 L2674.0,278.4 L2676.5,278.6 L2679.0,278.9 L2681.5,279.1 L2684.0,279.4 L2686.5,279.6 L2689.0,279.9 L2691.5,280.1 L2694.0,280.4 L2696.5,280.6 L2699.0,280.9 L2701.5,281.3 L2704.0,281.9 L2706.5,282.5 L2709.0,283.0 L2711.5,283.6 L2714.0,284.1 L2716.5,284.7 L2719.0,285.3 L2721.5,285.8 L2724.0,286.4 L2726.5,287.0 L2729.0,287.5 L2731.5,288.0 L2734.0,288.4 L2736.5,288.8 L2739.0,289.3 L2741.5,289.7 L2744.0,290.0 L2746.5,290.2 L2749.0,290.4 L2751.5,290.5 L2754.0,290.7 L2756.5,290.9 L2759.0,291.1 L2761.5,291.2 L2764.0,291.4 L2766.5,291.5 L2769.0,291.7 L2771.5,291.9 L2774.0,292.6 L2776.5,293.2 L2779.0,293.8 L2781.5,294.4 L2784.0,294.8 L2786.5,294.9 L2789.0,295.1 L2791.5,295.3 L2794.0,295.5 L2796.5,295.7 L2799.0,295.9 L2801.5,296.2 L2804.0,296.5 L2806.5,296.8 L2809.0,297.1 L2811.5,297.4 L2814.0,297.6 L2816.5,297.9 L2819.0,298.1 L2821.5,298.4 L2824.0,298.6 L2826.5,298.9 L2829.0,299.1 L2831.5,299.4 L2834.0,299.7 L2836.5,300.0 L2839.0,300.3 L2841.5,300.6 L2844.0,300.9 L2846.5,301.2 L2849.0,301.5 L2851.5,301.8 L2854.0,302.1 L2856.5,302.4 L2859.0,302.7 L2861.5,303.0 L2864.0,303.3 L2866.5,303.6 L2869.0,303.9 L2871.5,304.1 L2874.0,304.4 L2876.5,304.6 L2879.0,304.9 L2881.5,305.1 L2884.0,305.4 L2886.5,305.6 L2889.0,305.9 L2891.5,306.1 L2894.0,306.3 L2896.5,306.6 L2899.0,306.8 L2901.5,307.1 L2904.0,307.3 L2906.5,307.5 L2909.0,307.7 L2911.5,308.0 L2914.0,308.3 L2916.5,308.6 L2919.0,309.0 L2921.5,309.4 L2924.0,309.7 L2926.5,310.0 L2929.0,310.3 L2931.5,310.4 L2934.0,310.6 L2936.5,310.8 L2939.0,311.0 L2941.5,311.1 L2944.0,311.3 L2946.5,311.5 L2949.0,311.7 L2951.5,312.0 L2954.0,312.2 L2956.5,312.5 L2959.0,312.7 L2961.5,313.0 L2964.0,313.2 L2966.5,313.5 L2969.0,313.7 L2971.5,314.0 L2974.0,314.2 L2976.5,314.5 L2979.0,314.7 L2981.5,315.0 L2984.0,315.2 L2986.5,315.2 L2989.0,315.2 L2991.5,315.2 L2994.0,315.2 L2996.5,315.2 L2999.0,315.2 L3001.5,315.2 L3004.0,315.2 L3006.5,315.2 L3009.0,315.2 L3011.5,315.2 L3014.0,315.2 L3016.5,315.2 L3019.0,315.2 L3021.5,315.2 L3024.0,315.2 L3026.5,315.2 L3029.0,315.2 L3031.5,315.2 L3034.0,315.2 L3036.5,318.4 L3039.0,318.5 L3041.5,318.7 L3044.0,318.8 L3046.5,318.9 L3049.0,319.0 L3051.5,319.2 L3054.0,319.3 L3056.5,319.4 L3059.0,319.6 L3061.5,319.7 L3064.0,319.9 L3066.5,320.1 L3069.0,320.3 L3071.5,320.4 L3074.0,320.6 L3076.5,320.8 L3079.0,320.9 L3081.5,321.0 L3084.0,321.2 L3086.5,321.3 L3089.0,321.4 L3091.5,321.5 L3094.0,321.7 L3096.5,321.8 L3099.0,322.1 L3101.5,322.3 L3104.0,322.6 L3106.5,322.8 L3109.0,323.1 L3111.5,323.3 L3114.0,323.6 L3116.5,323.6 L3119.0,323.6 L3121.5,323.6 L3124.0,323.6 L3126.5,323.6 L3129.0,323.6 L3131.5,323.6 L3134.0,323.6 L3136.5,323.6 L3139.0,323.6 L3141.5,324.4 L3144.0,325.3 L3146.5,326.1 L3149.0,326.9 L3151.5,327.8 L3154.0,328.6 L3156.5,329.3 L3159.0,329.6 L3161.5,329.8 L3164.0,330.1 L3166.5,330.3 L3169.0,330.6 L3171.5,330.8 L3174.0,331.0 L3176.5,331.1 L3179.0,331.3 L3181.5,331.5 L3184.0,331.7 L3186.5,331.8 L3189.0,332.0 L3191.5,332.2 L3194.0,332.4 L3196.5,332.5 L3199.0,332.7 L3201.5,332.9 L3204.0,333.1 L3206.5,333.2 L3209.0,333.4 L3211.5,333.6 L3214.0,333.8 L3216.5,334.0 L3219.0,334.2 L3221.5,334.4 L3224.0,334.6 L3226.5,334.8 L3229.0,335.2 L3231.5,335.5 L3234.0,335.9 L3236.5,336.3 L3239.0,336.7 L3241.5,337.0 L3244.0,337.4 L3246.5,337.7 L3249.0,337.7 L3251.5,337.7 L3254.0,337.7 L3256.5,337.7 L3259.0,337.7 L3261.5,337.7 L3264.0,337.7 L3266.5,337.7 L3269.0,337.7 L3271.5,337.7 L3274.0,337.7 L3276.5,337.7 L3279.0,337.7 L3281.5,337.7 L3284.0,337.7 L3286.5,337.7 L3289.0,337.7 L3291.5,337.7 L3294.0,337.7 L3296.5,337.7 L3299.0,337.7 L3301.5,337.7 L3304.0,337.7 L3306.5,337.7 L3307.3,337.7" fill="none" stroke="#0072B5" stroke-width="4.70" stroke-linejoin="round"/>
<path d="M2509.0,260.9 L2511.5,261.5 L2514.0,262.3 L2516.5,263.2 L2519.0,263.7 L2521.5,263.9 L2524.0,264.0 L2526.5,264.1 L2529.0,264.2 L2531.5,264.4 L2534.0,265.3 L2536.5,265.6 L2539.0,265.6 L2541.5,265.6 L2544.0,265.6 L2546.5,265.6 L2549.0,266.0 L2551.5,267.1 L2554.0,268.3 L2556.5,269.2 L2559.0,269.9 L2561.5,270.6 L2564.0,271.3 L2566.5,272.0 L2569.0,272.7 L2571.5,273.4 L2574.0,273.6 L2576.5,273.6 L2579.0,273.6 L2581.5,273.6 L2584.0,273.6 L2586.5,273.6 L2589.0,273.6 L2591.5,273.8 L2594.0,275.2 L2596.5,276.6 L2599.0,277.8 L2601.5,277.8 L2604.0,277.8 L2606.5,277.8 L2609.0,277.8 L2611.5,277.8 L2614.0,278.9 L2616.5,280.1 L2619.0,281.4 L2621.5,282.4 L2624.0,282.4 L2626.5,282.4 L2629.0,282.4 L2631.5,282.4 L2634.0,282.4 L2636.5,282.4 L2639.0,282.4 L2641.5,282.4 L2644.0,282.4 L2646.5,282.4 L2649.0,282.4 L2651.5,283.5 L2654.0,284.6 L2656.5,285.7 L2659.0,285.8 L2661.5,285.8 L2664.0,285.8 L2666.5,285.8 L2669.0,285.8 L2671.5,285.8 L2674.0,285.8 L2676.5,286.1 L2679.0,286.8 L2681.5,287.5 L2684.0,288.2 L2686.5,288.7 L2689.0,289.0 L2691.5,289.4 L2694.0,289.8 L2696.5,290.1 L2699.0,290.8 L2701.5,291.9 L2704.0,293.1 L2706.5,293.8 L2709.0,294.2 L2711.5,294.6 L2714.0,294.9 L2716.5,295.3 L2719.0,295.6 L2721.5,296.1 L2724.0,296.6 L2726.5,297.1 L2729.0,297.5 L2731.5,298.0 L2734.0,298.4 L2736.5,298.5 L2739.0,298.7 L2741.5,298.8 L2744.0,299.5 L2746.5,300.6 L2749.0,301.5 L2751.5,301.5 L2754.0,301.5 L2756.5,301.5 L2759.0,301.5 L2761.5,301.5 L2764.0,301.5 L2766.5,302.3 L2769.0,303.8 L2771.5,304.9 L2774.0,304.9 L2776.5,304.9 L2779.0,304.9 L2781.5,304.9 L2784.0,304.9 L2786.5,304.9 L2789.0,304.9 L2791.5,304.9 L2794.0,304.9 L2796.5,304.9 L2799.0,304.9 L2801.5,305.4 L2804.0,305.9 L2806.5,306.4 L2809.0,306.9 L2811.5,307.5 L2814.0,308.1 L2816.5,308.7 L2819.0,309.2 L2821.5,309.6 L2824.0,310.0 L2826.5,310.4 L2829.0,310.5 L2831.5,310.5 L2834.0,310.5 L2836.5,310.5 L2839.0,310.5 L2841.5,310.9 L2844.0,311.5 L2846.5,312.1 L2849.0,312.8 L2851.5,313.4 L2854.0,313.9 L2856.5,313.9 L2859.0,313.9 L2861.5,313.9 L2864.0,313.9 L2866.5,313.9 L2869.0,314.2 L2871.5,315.5 L2874.0,315.8 L2876.5,315.8 L2879.0,315.8 L2881.5,315.8 L2884.0,315.8 L2886.5,315.8 L2889.0,315.8 L2891.5,315.8 L2894.0,316.1 L2896.5,316.5 L2899.0,316.9 L2901.5,317.1 L2904.0,317.1 L2906.5,317.1 L2909.0,317.1 L2911.5,317.1 L2914.0,317.1 L2916.5,317.1 L2919.0,317.1 L2921.5,317.1 L2924.0,318.7 L2926.5,319.9 L2929.0,319.9 L2931.5,319.9 L2934.0,319.9 L2936.5,319.9 L2939.0,319.9 L2941.5,319.9 L2944.0,319.9 L2946.5,319.9 L2949.0,319.9 L2951.5,319.9 L2954.0,320.1 L2956.5,321.3 L2959.0,321.8 L2961.5,321.8 L2964.0,321.8 L2966.5,321.8 L2969.0,321.8 L2971.5,321.8 L2974.0,321.8 L2976.5,321.8 L2979.0,323.0 L2981.5,326.1 L2984.0,326.5 L2986.5,326.5 L2989.0,326.5 L2991.5,326.5 L2994.0,326.5 L2996.5,326.5 L2999.0,326.5 L3001.5,326.5 L3004.0,326.5 L3006.5,326.5 L3009.0,326.5 L3011.5,326.5 L3014.0,326.5 L3016.5,326.5 L3019.0,326.5 L3021.5,326.5 L3024.0,326.5 L3026.5,326.5 L3029.0,326.6 L3031.5,327.2 L3034.0,327.8 L3036.5,328.3 L3039.0,328.3 L3041.5,328.3 L3044.0,328.3 L3046.5,328.3 L3049.0,328.3 L3051.5,328.3 L3054.0,328.3 L3056.5,328.3 L3059.0,331.0 L3061.5,332.6 L3064.0,332.6 L3066.5,332.6 L3069.0,332.6 L3071.5,332.6 L3074.0,332.6 L3076.5,333.4 L3079.0,335.0 L3081.5,336.4 L3084.0,336.4 L3086.5,336.4 L3089.0,336.4 L3091.5,336.4 L3094.0,336.4 L3096.5,336.4 L3099.0,336.4 L3101.5,336.4 L3104.0,336.4 L3106.5,336.4 L3109.0,337.6 L3111.5,339.2 L3114.0,340.9 L3116.5,342.6 L3119.0,343.3 L3121.5,343.3 L3124.0,343.3 L3126.5,343.3 L3129.0,343.3 L3131.5,343.3 L3134.0,343.3 L3136.5,343.3 L3139.0,344.8 L3141.5,346.5 L3144.0,346.5 L3146.5,346.5 L3149.0,346.5 L3151.5,346.5 L3154.0,346.5 L3156.5,347.6 L3159.0,348.7 L3161.5,349.8 L3164.0,351.1 L3166.5,352.3 L3169.0,352.7 L3171.5,352.7 L3174.0,352.7 L3176.5,352.7 L3179.0,352.7 L3181.5,352.7 L3184.0,352.7 L3186.5,352.7 L3189.0,352.7 L3191.5,352.7 L3194.0,352.7 L3196.5,352.7 L3199.0,352.7 L3201.5,352.7 L3204.0,352.7 L3206.5,352.7 L3209.0,354.3 L3211.5,356.0 L3214.0,356.4 L3216.5,356.4 L3219.0,356.4 L3221.5,356.4 L3224.0,356.4 L3226.5,356.4 L3229.0,356.4 L3231.5,356.4 L3234.0,356.4 L3236.5,356.4 L3239.0,356.4 L3241.5,357.1 L3244.0,358.6 L3246.5,359.6 L3249.0,359.6 L3251.5,359.6 L3254.0,359.6 L3256.5,359.6 L3259.0,359.6 L3261.5,359.6 L3264.0,359.6 L3266.5,359.6 L3269.0,359.6 L3271.5,359.6 L3274.0,359.6 L3276.5,359.6 L3279.0,359.6 L3281.5,359.6 L3284.0,359.6 L3286.5,359.6 L3289.0,359.6 L3291.5,359.6 L3294.0,359.6 L3296.5,359.6 L3299.0,359.6 L3301.5,359.6 L3304.0,359.6 L3306.5,359.6 L3307.3,359.6" fill="none" stroke="#BC3C29" stroke-width="4.60" stroke-linejoin="round"/>
<path d="M2510.0,257.6v6.8M2575.8,260.9v7.1M2591.5,262.9v7.6M2599.2,264.7v6.9M2608.7,266.1v6.6M2615.9,266.1v6.9M2623.3,266.5v6.8M2632.6,267.5v6.6M2635.8,267.5v7.3M2641.0,268.4v7.1M2650.8,271.3v7.2M2656.1,272.4v6.7M2665.1,273.5v7.5M2673.6,274.5v7.6M2682.3,275.8v6.8M2686.9,276.1v7.0M2695.8,276.7v7.6M2698.3,277.5v6.7M2707.3,279.0v7.3M2710.2,280.0v6.6M2719.4,281.6v7.6M2722.2,282.7v6.5M2730.6,284.4v6.8M2737.8,285.4v7.2M2746.1,286.8v6.8M2749.4,287.2v6.5M2760.3,287.5v7.3M2764.5,287.8v7.2M2771.8,288.2v7.6M2779.9,290.5v7.0M2786.9,291.2v7.4M2793.6,291.9v7.2M2798.9,292.1v7.6M2802.6,292.9v6.8M2805.3,293.0v7.3M2811.8,293.9v7.0M2820.7,294.7v7.1M2829.0,295.3v7.5M2832.8,296.1v6.9M2839.1,296.8v7.1M2850.0,298.2v6.8M2859.1,299.1v7.3M2862.2,299.5v7.1M2869.1,300.4v7.0M2876.3,301.0v7.2M2887.2,302.4v6.6M2896.5,303.0v7.3M2900.1,303.4v7.1M2905.4,303.7v7.5M2909.6,304.3v7.0M2920.0,305.5v7.3M2929.2,306.7v7.3M2937.1,307.1v7.5M2940.6,307.7v6.8M2947.1,307.9v7.3M2956.1,309.1v6.6M2965.9,310.0v6.9M2977.0,310.8v7.5M2983.6,311.7v7.0M2994.2,311.9v6.6M3004.0,311.8v6.9M3006.7,311.9v6.6M3013.4,311.9v6.7M3021.3,311.5v7.5M3027.5,311.5v7.3M3032.1,311.9v6.6M3038.4,314.9v7.1M3044.0,315.1v7.3M3046.5,315.2v7.4M3051.2,315.9v6.6M3054.4,315.9v6.7M3057.3,316.2v6.6M3064.9,316.2v7.5M3068.1,316.6v7.2M3072.2,316.8v7.4M3075.0,317.0v7.5M3084.5,317.5v7.4M3093.7,318.0v7.3M3104.0,318.9v7.5M3112.3,319.8v7.1M3123.0,320.2v6.8M3131.0,319.8v7.5M3137.8,319.9v7.4M3142.0,320.8v7.6M3151.4,324.2v7.1M3162.2,326.1v7.5M3173.0,327.2v7.5M3177.5,327.9v6.5M3182.9,327.8v7.6M3193.8,328.7v7.3M3200.7,329.5v6.7M3204.4,329.3v7.6M3213.0,330.1v7.3M3222.5,330.8v7.4M3225.4,331.0v7.5M3231.5,331.9v7.3M3236.5,332.5v7.5M3242.6,333.4v7.6M3246.0,334.2v7.0M3255.2,333.9v7.5M3264.1,334.3v6.8M3273.0,334.1v7.1M3276.5,333.9v7.6M3281.8,334.3v6.9M3291.6,334.2v7.1M3300.5,334.0v7.5M3305.7,334.2v7.0" fill="none" stroke="#0072B5" stroke-width="1.35"/>
<path d="M2511.3,258.1v6.7M2688.2,285.3v7.1M2703.3,289.4v6.7M2716.9,291.6v7.5M2747.4,297.1v7.6M2760.6,298.1v6.9M2798.1,301.6v6.5M2824.5,306.8v6.6M2836.1,306.7v7.5M2856.1,310.2v7.3M2898.7,313.2v7.3M2910.3,313.6v7.1M2939.5,316.3v7.1M2984.0,323.2v6.5M3005.1,323.0v7.0M3031.8,323.5v7.5M3055.2,324.8v7.0M3066.6,329.3v6.6M3108.1,333.4v7.4M3151.8,343.2v6.5M3183.3,349.3v6.7M3211.6,352.5v7.1M3250.5,356.0v7.1M3277.3,356.1v7.0M3290.4,356.3v6.5" fill="none" stroke="#BC3C29" stroke-width="1.35"/>
<line x1="2470.98" y1="240.37" x2="2470.98" y2="677.39" stroke="#000" stroke-width="4.50" />
<line x1="2470.98" y1="677.39" x2="3307.62" y2="677.39" stroke="#000" stroke-width="4.50" />
<line x1="2464.84" y1="260.20" x2="2468.75" y2="260.20" stroke="#000" stroke-width="4.50" />
<text x="2458.3" y="271.7" font-size="31.70" text-anchor="end">100%</text>
<line x1="2464.84" y1="359.51" x2="2468.75" y2="359.51" stroke="#000" stroke-width="4.50" />
<text x="2458.3" y="371.0" font-size="31.70" text-anchor="end">75%</text>
<line x1="2464.84" y1="458.81" x2="2468.75" y2="458.81" stroke="#000" stroke-width="4.50" />
<text x="2458.3" y="470.3" font-size="31.70" text-anchor="end">50%</text>
<line x1="2464.84" y1="558.12" x2="2468.75" y2="558.12" stroke="#000" stroke-width="4.50" />
<text x="2458.3" y="569.6" font-size="31.70" text-anchor="end">25%</text>
<line x1="2464.84" y1="657.43" x2="2468.75" y2="657.43" stroke="#000" stroke-width="4.50" />
<text x="2458.3" y="668.9" font-size="31.70" text-anchor="end">0%</text>
<line x1="2509.00" y1="679.59" x2="2509.00" y2="683.73" stroke="#000" stroke-width="4.50" />
<text x="2509.0" y="711.9" font-size="31.70" text-anchor="middle">0</text>
<line x1="2593.53" y1="679.59" x2="2593.53" y2="683.73" stroke="#000" stroke-width="4.50" />
<text x="2593.5" y="711.9" font-size="31.70" text-anchor="middle">1</text>
<line x1="2678.06" y1="679.59" x2="2678.06" y2="683.73" stroke="#000" stroke-width="4.50" />
<text x="2678.1" y="711.9" font-size="31.70" text-anchor="middle">2</text>
<line x1="2762.59" y1="679.59" x2="2762.59" y2="683.73" stroke="#000" stroke-width="4.50" />
<text x="2762.6" y="711.9" font-size="31.70" text-anchor="middle">3</text>
<line x1="2847.12" y1="679.59" x2="2847.12" y2="683.73" stroke="#000" stroke-width="4.50" />
<text x="2847.1" y="711.9" font-size="31.70" text-anchor="middle">4</text>
<line x1="2931.65" y1="679.59" x2="2931.65" y2="683.73" stroke="#000" stroke-width="4.50" />
<text x="2931.7" y="711.9" font-size="31.70" text-anchor="middle">5</text>
<line x1="3016.18" y1="679.59" x2="3016.18" y2="683.73" stroke="#000" stroke-width="4.50" />
<text x="3016.2" y="711.9" font-size="31.70" text-anchor="middle">6</text>
<line x1="3100.71" y1="679.59" x2="3100.71" y2="683.73" stroke="#000" stroke-width="4.50" />
<text x="3100.7" y="711.9" font-size="31.70" text-anchor="middle">7</text>
<line x1="3185.24" y1="679.59" x2="3185.24" y2="683.73" stroke="#000" stroke-width="4.50" />
<text x="3185.2" y="711.9" font-size="31.70" text-anchor="middle">8</text>
<line x1="3269.77" y1="679.59" x2="3269.77" y2="683.73" stroke="#000" stroke-width="4.50" />
<text x="3269.8" y="711.9" font-size="31.70" text-anchor="middle">9</text>
<text x="2889.4" y="747.7" font-size="32.38" text-anchor="middle">Survival time (Years)</text>
<text transform="translate(2371.5,459.4) rotate(-90)" font-size="32.15" text-anchor="middle">Cumulative survival probability</text>
<text x="2889.1" y="218.9" font-size="45.42" text-anchor="middle" font-weight="bold">Stage 0-I</text>
<line x1="3053.32" y1="245.35" x2="3085.34" y2="245.35" stroke="#0072B5" stroke-width="5.13" />
<line x1="3069.24" y1="241.53" x2="3069.24" y2="249.17" stroke="#0072B5" stroke-width="1.35" />
<text x="3102.1" y="256.0" font-size="29.91" text-anchor="start">Northern center</text>
<line x1="3053.32" y1="284.92" x2="3085.34" y2="284.92" stroke="#BC3C29" stroke-width="5.13" />
<line x1="3069.24" y1="281.10" x2="3069.24" y2="288.74" stroke="#BC3C29" stroke-width="1.35" />
<text x="3102.1" y="295.7" font-size="29.91" text-anchor="start">Southern center</text>
<text x="2561.2" y="584.2" font-size="32.51" text-anchor="start">Log</text>
<line x1="2623.09" y1="575.71" x2="2639.23" y2="575.71" stroke="#000" stroke-width="1.30" />
<text x="2645.6" y="584.2" font-size="32.51" text-anchor="start">rank</text>
<text x="2524.6" y="634.5" font-size="32.51"><tspan font-style="italic">P</tspan> value</text>
<line x1="2640.90" y1="625.72" x2="2657.54" y2="625.72" stroke="#000" stroke-width="1.35" />
<line x1="2640.90" y1="631.43" x2="2657.54" y2="631.43" stroke="#000" stroke-width="1.35" />
<text x="2665.6" y="634.5" font-size="32.51" text-anchor="start">0.112</text>
<text x="2352.6" y="803.2" font-size="32.38" text-anchor="start">No. at risk</text>
<rect x="2380.88" y="837.17" width="30.62" height="9.89" fill="#0072B5"/>
<rect x="2380.88" y="871.07" width="30.62" height="9.89" fill="#BC3C29"/>
<text x="2466.1" y="852.0" font-size="25.81" text-anchor="middle">1098</text>
<text x="2555.0" y="852.0" font-size="25.81" text-anchor="middle">1064</text>
<text x="2644.0" y="852.0" font-size="25.81" text-anchor="middle">1003</text>
<text x="2733.0" y="852.0" font-size="25.81" text-anchor="middle">944</text>
<text x="2822.0" y="852.0" font-size="25.81" text-anchor="middle">888</text>
<text x="2911.0" y="852.0" font-size="25.81" text-anchor="middle">741</text>
<text x="3000.0" y="852.0" font-size="25.81" text-anchor="middle">538</text>
<text x="3089.0" y="852.0" font-size="25.81" text-anchor="middle">375</text>
<text x="3178.0" y="852.0" font-size="25.81" text-anchor="middle">241</text>
<text x="3267.0" y="852.0" font-size="25.81" text-anchor="middle">116</text>
<text x="2466.1" y="885.7" font-size="25.81" text-anchor="middle">251</text>
<text x="2555.0" y="885.7" font-size="25.81" text-anchor="middle">242</text>
<text x="2644.0" y="885.7" font-size="25.81" text-anchor="middle">233</text>
<text x="2733.0" y="885.7" font-size="25.81" text-anchor="middle">222</text>
<text x="2822.0" y="885.7" font-size="25.81" text-anchor="middle">191</text>
<text x="2911.0" y="885.7" font-size="25.81" text-anchor="middle">165</text>
<text x="3000.0" y="885.7" font-size="25.81" text-anchor="middle">148</text>
<text x="3089.0" y="885.7" font-size="25.81" text-anchor="middle">123</text>
<text x="3178.0" y="885.7" font-size="25.81" text-anchor="middle">93</text>
<text x="3267.0" y="885.7" font-size="25.81" text-anchor="middle">74</text>
<rect x="2273.2" y="208.2" width="60.4" height="85.6" fill="none" stroke="#000" stroke-width="8.0"/>
<text x="2302.6" y="265.4" font-size="45.50" text-anchor="middle">2</text>
<path d="M3594.5,261.0 L3597.0,261.3 L3599.5,261.6 L3602.0,262.0 L3604.5,262.3 L3607.0,262.7 L3609.5,263.0 L3612.0,263.3 L3614.5,263.9 L3617.0,264.5 L3619.5,265.2 L3622.0,265.8 L3624.5,266.4 L3627.0,267.0 L3629.5,267.7 L3632.0,268.3 L3634.5,269.0 L3637.0,269.7 L3639.5,270.4 L3642.0,271.1 L3644.5,271.8 L3647.0,272.5 L3649.5,273.2 L3652.0,274.1 L3654.5,275.0 L3657.0,276.0 L3659.5,276.9 L3662.0,277.8 L3664.5,278.7 L3667.0,279.7 L3669.5,280.7 L3672.0,281.8 L3674.5,282.9 L3677.0,284.0 L3679.5,285.2 L3682.0,286.3 L3684.5,287.4 L3687.0,288.5 L3689.5,289.6 L3692.0,290.6 L3694.5,291.7 L3697.0,292.7 L3699.5,294.1 L3702.0,296.2 L3704.5,298.3 L3707.0,300.4 L3709.5,302.5 L3712.0,304.0 L3714.5,305.4 L3717.0,306.8 L3719.5,308.2 L3722.0,309.6 L3724.5,311.0 L3727.0,312.3 L3729.5,313.5 L3732.0,314.8 L3734.5,316.0 L3737.0,317.3 L3739.5,318.5 L3742.0,319.8 L3744.5,321.0 L3747.0,322.3 L3749.5,323.5 L3752.0,324.8 L3754.5,326.0 L3757.0,327.3 L3759.5,328.5 L3762.0,329.8 L3764.5,330.9 L3767.0,332.0 L3769.5,333.1 L3772.0,334.3 L3774.5,335.4 L3777.0,336.5 L3779.5,337.6 L3782.0,338.7 L3784.5,339.7 L3787.0,340.7 L3789.5,341.7 L3792.0,342.7 L3794.5,343.7 L3797.0,344.7 L3799.5,345.7 L3802.0,346.6 L3804.5,347.5 L3807.0,348.4 L3809.5,349.2 L3812.0,350.1 L3814.5,351.0 L3817.0,351.9 L3819.5,352.7 L3822.0,353.4 L3824.5,354.2 L3827.0,354.9 L3829.5,355.9 L3832.0,357.1 L3834.5,358.2 L3837.0,359.3 L3839.5,360.4 L3842.0,361.6 L3844.5,362.7 L3847.0,363.8 L3849.5,364.8 L3852.0,365.8 L3854.5,366.8 L3857.0,367.8 L3859.5,368.8 L3862.0,369.8 L3864.5,370.8 L3867.0,371.7 L3869.5,372.6 L3872.0,373.4 L3874.5,374.3 L3877.0,375.2 L3879.5,376.1 L3882.0,376.9 L3884.5,377.8 L3887.0,378.8 L3889.5,379.8 L3892.0,380.8 L3894.5,381.7 L3897.0,382.3 L3899.5,382.9 L3902.0,383.6 L3904.5,384.2 L3907.0,384.8 L3909.5,385.4 L3912.0,386.1 L3914.5,386.7 L3917.0,387.3 L3919.5,387.9 L3922.0,388.6 L3924.5,389.2 L3927.0,389.8 L3929.5,390.4 L3932.0,391.0 L3934.5,391.5 L3937.0,392.0 L3939.5,392.5 L3942.0,393.0 L3944.5,393.5 L3947.0,394.0 L3949.5,394.5 L3952.0,395.0 L3954.5,395.5 L3957.0,396.0 L3959.5,396.5 L3962.0,397.0 L3964.5,397.5 L3967.0,398.0 L3969.5,398.4 L3972.0,398.7 L3974.5,399.1 L3977.0,399.5 L3979.5,399.9 L3982.0,400.3 L3984.5,400.6 L3987.0,401.0 L3989.5,401.5 L3992.0,401.9 L3994.5,402.3 L3997.0,402.9 L3999.5,403.5 L4002.0,404.2 L4004.5,404.8 L4007.0,405.4 L4009.5,406.0 L4012.0,406.7 L4014.5,407.1 L4017.0,407.5 L4019.5,407.8 L4022.0,408.2 L4024.5,408.6 L4027.0,409.0 L4029.5,409.3 L4032.0,409.7 L4034.5,409.9 L4037.0,410.2 L4039.5,410.4 L4042.0,410.7 L4044.5,410.9 L4047.0,411.2 L4049.5,411.4 L4052.0,412.0 L4054.5,412.6 L4057.0,413.2 L4059.5,413.9 L4062.0,414.5 L4064.5,415.1 L4067.0,415.7 L4069.5,416.3 L4072.0,416.8 L4074.5,417.3 L4077.0,417.8 L4079.5,418.3 L4082.0,418.8 L4084.5,419.3 L4087.0,419.8 L4089.5,420.1 L4092.0,420.4 L4094.5,420.6 L4097.0,420.9 L4099.5,421.1 L4102.0,421.4 L4104.5,421.6 L4107.0,421.9 L4109.5,422.1 L4112.0,422.4 L4114.5,422.6 L4117.0,422.9 L4119.5,423.1 L4122.0,423.4 L4124.5,423.6 L4127.0,424.3 L4129.5,425.0 L4132.0,425.8 L4134.5,426.5 L4137.0,426.7 L4139.5,427.0 L4142.0,427.2 L4144.5,427.5 L4147.0,427.7 L4149.5,428.0 L4152.0,428.2 L4154.5,428.5 L4157.0,428.7 L4159.5,429.0 L4162.0,429.2 L4164.5,429.5 L4167.0,429.7 L4169.5,430.0 L4172.0,430.2 L4174.5,430.5 L4177.0,430.7 L4179.5,431.0 L4182.0,431.2 L4184.5,431.5 L4187.0,431.7 L4189.5,432.0 L4192.0,432.2 L4194.5,432.3 L4197.0,432.4 L4199.5,432.5 L4202.0,432.7 L4204.5,432.8 L4207.0,432.9 L4209.5,433.0 L4212.0,433.2 L4214.5,433.4 L4217.0,433.6 L4219.5,433.8 L4222.0,434.0 L4224.5,434.2 L4227.0,434.4 L4229.5,434.6 L4232.0,434.7 L4234.5,434.8 L4237.0,434.9 L4239.5,435.0 L4242.0,435.1 L4244.5,435.2 L4247.0,435.3 L4249.5,435.3 L4252.0,435.3 L4254.5,435.3 L4257.0,435.3 L4259.5,435.3 L4262.0,435.4 L4264.5,435.9 L4267.0,436.5 L4269.5,437.1 L4272.0,437.6 L4274.5,438.2 L4277.0,438.6 L4279.5,438.9 L4282.0,439.3 L4284.5,439.6 L4287.0,440.0 L4289.5,440.3 L4292.0,440.7 L4294.5,441.0 L4297.0,441.2 L4299.5,441.4 L4302.0,441.6 L4304.5,441.8 L4307.0,442.0 L4309.5,442.2 L4312.0,442.4 L4314.5,442.7 L4317.0,443.1 L4319.5,443.5 L4322.0,443.9 L4324.5,444.2 L4327.0,444.6 L4329.5,445.0 L4332.0,445.2 L4334.5,445.2 L4337.0,445.2 L4339.5,445.2 L4342.0,445.2 L4344.5,445.2 L4347.0,445.2 L4349.5,445.2 L4352.0,445.2 L4354.5,445.2 L4357.0,445.2 L4359.5,445.2 L4362.0,445.2 L4364.5,445.2 L4367.0,445.2 L4369.5,445.2 L4372.0,445.2 L4374.5,445.2 L4377.0,445.2 L4379.5,445.2 L4382.0,445.2 L4384.5,445.2 L4387.0,445.2 L4389.5,445.2 L4392.0,445.2 L4392.6,445.2" fill="none" stroke="#0072B5" stroke-width="5.20" stroke-linejoin="round"/>
<path d="M3594.5,260.6 L3597.0,260.6 L3599.5,260.6 L3602.0,260.6 L3604.5,260.6 L3607.0,260.6 L3609.5,260.6 L3612.0,261.1 L3614.5,261.9 L3617.0,262.7 L3619.5,263.6 L3622.0,264.4 L3624.5,265.4 L3627.0,266.3 L3629.5,267.2 L3632.0,268.2 L3634.5,269.1 L3637.0,270.1 L3639.5,271.3 L3642.0,272.6 L3644.5,273.8 L3647.0,275.1 L3649.5,276.3 L3652.0,278.2 L3654.5,280.2 L3657.0,282.2 L3659.5,284.2 L3662.0,286.2 L3664.5,288.2 L3667.0,290.2 L3669.5,291.9 L3672.0,293.2 L3674.5,294.4 L3677.0,295.7 L3679.5,297.2 L3682.0,299.0 L3684.5,300.7 L3687.0,302.5 L3689.5,304.0 L3692.0,305.5 L3694.5,307.0 L3697.0,308.5 L3699.5,309.7 L3702.0,311.0 L3704.5,312.2 L3707.0,313.4 L3709.5,314.4 L3712.0,315.4 L3714.5,316.4 L3717.0,317.9 L3719.5,319.8 L3722.0,321.7 L3724.5,324.5 L3727.0,327.8 L3729.5,330.4 L3732.0,331.9 L3734.5,333.4 L3737.0,334.8 L3739.5,336.3 L3742.0,338.6 L3744.5,341.1 L3747.0,342.7 L3749.5,343.7 L3752.0,344.7 L3754.5,345.7 L3757.0,346.6 L3759.5,347.4 L3762.0,348.2 L3764.5,349.1 L3767.0,349.9 L3769.5,350.7 L3772.0,351.7 L3774.5,353.3 L3777.0,355.0 L3779.5,355.6 L3782.0,356.1 L3784.5,356.6 L3787.0,357.3 L3789.5,358.8 L3792.0,360.4 L3794.5,361.9 L3797.0,362.7 L3799.5,363.6 L3802.0,364.5 L3804.5,365.4 L3807.0,366.2 L3809.5,367.1 L3812.0,368.0 L3814.5,369.1 L3817.0,370.4 L3819.5,371.6 L3822.0,372.9 L3824.5,373.9 L3827.0,374.2 L3829.5,374.4 L3832.0,374.7 L3834.5,374.9 L3837.0,375.2 L3839.5,376.3 L3842.0,377.4 L3844.5,378.6 L3847.0,379.7 L3849.5,380.6 L3852.0,381.6 L3854.5,382.5 L3857.0,383.4 L3859.5,384.4 L3862.0,385.3 L3864.5,386.3 L3867.0,387.3 L3869.5,388.3 L3872.0,389.7 L3874.5,391.4 L3877.0,393.2 L3879.5,394.9 L3882.0,395.6 L3884.5,395.7 L3887.0,395.9 L3889.5,396.1 L3892.0,396.3 L3894.5,396.4 L3897.0,396.4 L3899.5,396.4 L3902.0,396.4 L3904.5,396.4 L3907.0,396.6 L3909.5,397.4 L3912.0,398.2 L3914.5,399.1 L3917.0,399.9 L3919.5,400.2 L3922.0,400.2 L3924.5,400.2 L3927.0,400.3 L3929.5,400.3 L3932.0,400.5 L3934.5,400.9 L3937.0,401.2 L3939.5,401.6 L3942.0,402.0 L3944.5,402.8 L3947.0,403.5 L3949.5,404.3 L3952.0,405.1 L3954.5,405.9 L3957.0,406.7 L3959.5,407.1 L3962.0,407.5 L3964.5,407.9 L3967.0,408.3 L3969.5,408.9 L3972.0,409.7 L3974.5,410.4 L3977.0,411.2 L3979.5,412.0 L3982.0,412.7 L3984.5,413.4 L3987.0,414.0 L3989.5,414.5 L3992.0,414.9 L3994.5,415.4 L3997.0,415.9 L3999.5,416.4 L4002.0,416.9 L4004.5,417.5 L4007.0,418.0 L4009.5,418.0 L4012.0,418.0 L4014.5,418.0 L4017.0,418.0 L4019.5,418.0 L4022.0,418.1 L4024.5,419.0 L4027.0,419.9 L4029.5,420.8 L4032.0,421.7 L4034.5,422.6 L4037.0,422.8 L4039.5,423.0 L4042.0,423.1 L4044.5,423.3 L4047.0,423.5 L4049.5,423.6 L4052.0,423.6 L4054.5,423.6 L4057.0,423.6 L4059.5,423.6 L4062.0,424.0 L4064.5,424.9 L4067.0,425.8 L4069.5,426.6 L4072.0,427.0 L4074.5,427.3 L4077.0,427.7 L4079.5,428.1 L4082.0,428.5 L4084.5,428.8 L4087.0,429.2 L4089.5,429.6 L4092.0,430.0 L4094.5,430.3 L4097.0,430.7 L4099.5,431.1 L4102.0,431.5 L4104.5,431.8 L4107.0,432.2 L4109.5,432.7 L4112.0,433.2 L4114.5,433.6 L4117.0,434.1 L4119.5,434.6 L4122.0,434.9 L4124.5,434.9 L4127.0,434.9 L4129.5,434.9 L4132.0,434.9 L4134.5,434.9 L4137.0,434.9 L4139.5,434.9 L4142.0,434.9 L4144.5,434.9 L4147.0,434.9 L4149.5,435.0 L4152.0,435.0 L4154.5,435.1 L4157.0,435.1 L4159.5,435.2 L4162.0,435.2 L4164.5,435.5 L4167.0,435.9 L4169.5,436.2 L4172.0,436.5 L4174.5,436.8 L4177.0,436.9 L4179.5,437.1 L4182.0,437.2 L4184.5,437.4 L4187.0,437.5 L4189.5,437.6 L4192.0,437.8 L4194.5,437.9 L4197.0,438.0 L4199.5,438.1 L4202.0,438.3 L4204.5,438.4 L4207.0,438.5 L4209.5,438.6 L4212.0,438.7 L4214.5,438.7 L4217.0,438.8 L4219.5,438.8 L4222.0,438.9 L4224.5,438.9 L4227.0,439.0 L4229.5,439.0 L4232.0,439.1 L4234.5,439.2 L4237.0,439.3 L4239.5,439.3 L4242.0,439.4 L4244.5,439.5 L4247.0,439.6 L4249.5,439.6 L4252.0,439.7 L4254.5,439.8 L4257.0,439.9 L4259.5,439.9 L4262.0,440.0 L4264.5,440.1 L4267.0,440.2 L4269.5,440.2 L4272.0,440.3 L4274.5,440.3 L4277.0,440.4 L4279.5,440.4 L4282.0,440.5 L4284.5,440.5 L4287.0,440.6 L4289.5,440.8 L4292.0,440.9 L4294.5,441.0 L4297.0,441.1 L4299.5,441.3 L4302.0,441.4 L4304.5,441.5 L4307.0,441.6 L4309.5,441.8 L4312.0,441.9 L4314.5,442.0 L4317.0,442.1 L4319.5,442.3 L4322.0,442.4 L4324.5,442.5 L4327.0,442.6 L4329.5,442.8 L4332.0,442.9 L4334.5,443.0 L4337.0,443.1 L4339.5,443.3 L4342.0,443.3 L4344.5,443.4 L4347.0,443.4 L4349.5,443.5 L4352.0,443.5 L4354.5,443.6 L4357.0,443.6 L4359.5,443.7 L4362.0,443.7 L4364.5,443.7 L4367.0,443.7 L4369.5,443.7 L4372.0,443.8 L4374.5,443.8 L4377.0,443.8 L4379.5,443.8 L4382.0,443.8 L4384.5,443.8 L4387.0,443.8 L4389.5,443.9 L4392.0,443.9 L4392.6,443.9" fill="none" stroke="#BC3C29" stroke-width="4.80" stroke-linejoin="round"/>
<path d="M3597.0,257.5v7.6M3619.0,261.7v6.6M3627.8,263.9v6.6M3631.8,264.9v6.8M3634.2,265.6v6.6M3636.0,265.7v7.5M3639.0,266.8v6.9M3642.3,267.9v6.5M3650.1,270.2v6.5M3653.4,271.3v6.7M3657.4,272.7v6.8M3664.6,275.3v6.8M3669.5,277.4v6.7M3672.3,278.2v7.3M3673.8,279.2v6.8M3675.1,279.4v7.6M3678.0,280.8v7.5M3681.3,282.6v6.8M3683.3,283.6v6.5M3685.5,284.4v6.8M3687.8,285.1v7.4M3689.5,285.9v7.3M3692.1,287.3v6.7M3693.6,287.9v6.8M3696.5,289.2v6.6M3698.2,290.0v6.8M3702.2,293.1v6.6M3703.6,294.0v7.0M3707.6,297.5v6.8M3711.1,299.7v7.4M3714.1,301.8v6.7M3715.1,302.3v7.0M3717.0,303.4v6.7M3719.3,304.3v7.6M3722.4,306.1v7.4M3726.4,308.3v7.4M3729.5,310.0v7.0M3732.6,311.8v6.7M3736.2,313.6v6.5M3738.5,314.5v7.1M3740.7,315.9v6.5M3742.5,316.7v6.7M3745.1,317.8v7.0M3749.1,319.6v7.5M3750.7,320.8v6.7M3753.2,321.6v7.6M3756.1,323.5v6.7M3757.6,324.0v7.2M3759.7,325.3v6.5M3763.4,326.7v7.4M3766.0,328.1v6.8M3769.0,329.3v7.1M3771.6,330.7v6.7M3774.4,331.7v7.3M3775.4,332.4v6.8M3778.6,333.5v7.3M3780.2,334.5v6.9M3781.9,335.2v6.8M3784.4,335.8v7.6M3786.4,336.6v7.6M3788.9,337.9v7.1M3792.5,339.4v6.9M3796.5,340.9v7.1M3797.6,341.3v7.3M3798.9,341.7v7.5M3801.1,342.8v6.9M3803.2,343.3v7.5M3805.8,344.7v6.6M3808.1,344.9v7.6M3810.2,345.8v7.2M3811.2,346.4v6.8M3814.3,347.2v7.4M3817.6,348.6v7.0M3820.2,349.1v7.5M3822.8,350.0v7.4M3825.8,351.1v7.0M3828.4,351.7v7.6M3829.9,352.5v7.2M3831.9,353.4v7.2M3834.7,354.5v7.5M3836.8,355.5v7.5M3840.8,357.6v6.9M3842.2,357.9v7.5M3844.3,359.2v6.9M3847.8,360.5v7.3M3848.7,361.1v6.7M3852.6,362.7v6.7M3854.0,363.2v6.7M3856.2,363.9v7.1M3859.6,365.5v6.7M3860.9,366.1v6.5M3864.5,367.1v7.3M3868.0,368.8v6.6M3870.6,369.2v7.6M3872.3,369.9v7.2M3875.2,371.1v6.8M3879.1,372.4v7.1M3880.5,372.8v7.3M3883.9,374.1v7.0M3884.8,374.6v6.7M3887.9,375.8v6.6M3888.8,375.8v7.5M3891.1,376.9v7.1M3892.0,377.2v7.2M3895.9,378.2v7.6M3897.5,378.9v7.1M3899.5,379.2v7.4M3902.3,380.2v6.9M3906.3,381.3v6.7M3907.6,381.3v7.3M3910.6,382.3v6.9M3911.6,382.4v7.1M3913.5,383.1v6.8M3915.6,383.3v7.3M3917.5,384.0v6.9M3919.8,384.6v6.6M3923.5,385.7v6.6M3924.5,385.9v6.6M3925.4,386.0v6.9M3928.6,386.8v6.8M3932.5,387.8v6.6M3936.2,388.4v6.9M3937.4,388.6v7.0M3939.2,388.6v7.6M3942.1,389.6v6.9M3943.5,389.8v6.9M3946.0,390.3v7.0M3949.6,391.0v7.0M3953.1,391.5v7.4M3954.4,391.8v7.3M3957.3,392.5v7.1M3959.4,392.9v7.2M3963.3,393.8v7.0M3964.3,393.8v7.3M3967.9,394.6v7.1M3971.3,395.1v7.1M3973.1,395.4v6.9M3976.7,396.0v6.9M3979.4,396.2v7.4M3983.5,396.8v7.3M3985.1,397.1v7.2M3986.5,397.4v7.1M3988.4,397.7v7.2M3992.1,398.4v7.0M3996.0,399.2v6.9M3997.8,399.3v7.6M3999.9,399.9v7.4M4002.8,400.6v7.5M4006.4,401.5v7.4M4010.2,402.9v6.6M4011.6,403.0v7.2M4014.2,403.6v6.9M4017.3,403.8v7.5M4020.3,404.1v7.6M4022.0,404.5v7.3M4023.0,404.6v7.5M4026.0,405.4v6.8M4028.8,405.9v6.6M4030.2,405.7v7.5M4031.3,406.3v6.6M4033.0,406.0v7.6M4034.0,406.4v6.8M4036.8,406.8v6.8M4038.8,406.7v7.3M4040.8,406.8v7.6M4043.3,407.4v6.7M4046.5,407.6v7.1M4048.9,408.1v6.6M4052.0,408.5v6.9M4052.9,408.4v7.6M4054.6,409.1v7.1M4057.4,410.0v6.6M4060.1,410.7v6.6M4062.5,411.1v7.0M4066.0,411.8v7.4M4068.4,412.7v6.7M4070.4,412.8v7.3M4071.8,413.3v7.0M4073.5,413.5v7.1M4075.3,413.9v7.0M4077.4,414.6v6.5M4078.5,414.7v6.8M4081.0,414.8v7.6M4084.2,415.6v7.3M4087.7,416.1v7.6M4089.5,416.7v6.9M4093.1,417.0v7.0M4095.6,417.2v7.1M4099.6,417.4v7.5M4101.1,418.0v6.5M4102.3,418.1v6.6M4104.3,418.3v6.5M4106.5,418.4v7.0M4109.3,418.7v6.8M4111.5,418.7v7.2M4113.7,419.1v6.9M4116.4,419.1v7.5M4118.6,419.7v6.6M4120.2,419.7v7.1M4121.9,420.1v6.7M4124.0,420.1v6.9M4125.6,420.3v7.3M4126.6,420.6v7.2M4128.1,420.9v7.4M4131.3,422.3v6.6M4133.2,422.5v7.3M4136.9,423.0v7.5M4138.6,423.4v6.9M4142.2,423.4v7.6M4144.2,424.1v6.8M4146.7,424.0v7.4M4149.1,424.2v7.6M4151.6,424.6v7.1M4153.0,424.8v6.9M4154.1,425.0v6.9M4155.1,425.1v6.9M4156.8,424.9v7.5M4160.7,425.4v7.4M4164.4,425.8v7.3M4165.5,425.8v7.5M4167.4,426.0v7.4M4169.1,426.7v6.6M4171.1,426.8v6.6M4172.0,426.9v6.7M4174.8,427.0v7.1M4175.9,427.0v7.3M4177.3,427.5v6.5M4180.9,427.6v6.9M4184.9,427.8v7.5M4188.5,428.3v7.1M4191.3,428.4v7.4M4192.2,428.7v7.1M4195.7,428.5v7.6M4197.9,428.9v7.2M4201.9,429.2v6.9M4205.2,429.2v7.3M4206.5,429.3v7.2M4207.6,429.1v7.6M4210.2,429.4v7.4M4211.9,429.8v6.8M4215.0,429.9v7.1M4217.2,430.1v7.1M4218.9,430.4v6.8M4220.7,430.2v7.3M4223.8,430.6v7.1M4227.4,430.9v7.1M4230.2,430.8v7.6M4232.9,431.1v7.2M4236.5,431.3v7.1M4240.1,431.3v7.4M4243.5,431.7v6.9M4244.6,431.5v7.4M4248.1,432.0v6.7M4251.9,431.9v6.7M4255.3,431.6v7.3M4258.0,431.6v7.5M4261.2,431.8v7.1M4264.3,432.1v7.5M4267.5,433.1v7.0M4270.7,433.6v7.4M4274.4,434.4v7.6M4277.7,435.1v7.2M4279.8,435.6v6.6M4283.2,436.1v6.7M4285.5,436.4v6.8M4287.3,436.4v7.3M4290.6,437.1v6.8M4291.9,437.0v7.4M4293.3,437.5v6.7M4296.3,437.6v7.0M4299.1,438.0v6.8M4302.7,438.1v7.1M4305.9,438.6v6.7M4307.3,438.6v6.9M4309.7,438.6v7.1M4310.9,438.8v7.1M4314.8,439.5v6.5M4317.4,439.4v7.5M4319.0,439.9v7.0M4322.6,440.2v7.6M4326.4,441.1v6.9M4329.1,441.4v7.1M4332.5,441.6v7.2M4334.4,441.9v6.6M4336.2,441.7v6.9M4337.5,441.9v6.6M4338.5,441.7v7.0M4341.1,441.9v6.6M4342.7,441.7v7.0M4345.3,441.8v6.7M4347.6,441.8v6.9M4349.5,441.8v6.9M4352.8,441.5v7.4M4355.2,441.9v6.5M4356.4,441.5v7.5M4359.2,441.5v7.3M4361.4,441.8v6.8M4362.6,441.8v6.7M4364.1,441.6v7.2M4366.8,441.8v6.9M4370.0,441.5v7.4M4371.7,441.9v6.5M4373.4,441.8v6.8M4375.9,441.4v7.6M4377.3,441.6v7.2M4379.9,441.8v6.9M4382.1,441.5v7.4M4384.5,441.6v7.2M4386.8,441.5v7.4M4390.7,441.6v7.1" fill="none" stroke="#0072B5" stroke-width="1.35"/>
<path d="M3595.5,257.1v6.9M3640.4,268.5v6.5M3654.6,276.4v7.6M3663.5,283.9v7.0M3680.6,294.3v7.4M3685.6,298.0v6.9M3692.9,302.4v7.3M3696.1,304.3v7.3M3704.5,308.6v7.1M3707.9,310.3v6.9M3715.9,313.6v7.2M3720.4,317.2v6.6M3727.3,324.3v7.6M3729.8,327.0v7.1M3733.8,329.2v7.6M3739.5,332.6v7.3M3745.2,337.9v7.2M3752.7,341.4v7.2M3760.7,344.2v7.1M3768.0,346.7v7.1M3774.4,350.0v6.5M3782.2,352.6v7.0M3789.7,355.5v6.8M3795.5,358.6v7.3M3798.3,359.5v7.3M3802.4,361.1v7.0M3805.0,362.3v6.5M3811.6,364.4v7.0M3816.3,366.5v7.0M3819.5,368.2v6.9M3823.6,369.9v7.4M3826.0,370.4v7.4M3834.4,371.1v7.6M3840.3,373.0v7.3M3847.3,376.4v6.9M3850.8,377.5v7.2M3854.2,378.8v7.1M3862.7,382.0v7.1M3869.7,384.8v7.1M3871.9,386.2v7.0M3878.6,390.5v7.4M3880.9,391.5v7.6M3889.0,392.6v6.8M3894.9,393.1v6.7M3901.2,392.7v7.5M3908.4,393.6v7.0M3916.8,396.1v7.5M3922.6,396.5v7.5M3925.7,396.5v7.4M3930.6,396.9v6.9M3934.0,397.4v6.9M3941.0,398.2v7.2M3947.0,399.8v7.5M3953.2,402.0v7.1M3960.0,403.6v7.1M3966.3,404.5v7.4M3970.1,405.6v6.9M3975.8,407.1v7.5M3981.2,408.9v7.2M3986.3,410.5v6.7M3990.4,411.0v7.4M3993.5,411.8v6.8M3996.6,412.4v6.7M4003.5,413.6v7.3M4007.8,414.5v6.9M4016.3,414.5v7.1M4022.2,414.7v7.0M4028.4,416.9v7.0M4034.1,418.7v7.5M4036.0,419.3v6.8M4044.4,419.6v7.3M4052.3,420.2v6.9M4059.1,420.2v6.9M4066.0,421.9v7.1M4073.5,423.8v6.8M4075.9,424.1v6.9M4079.5,424.5v7.3M4083.6,425.2v7.0M4088.4,425.9v7.1M4093.4,426.5v7.2M4097.5,427.1v7.5M4105.0,428.1v7.5M4110.4,429.6v6.6M4114.2,430.2v6.6M4119.2,431.2v6.8M4123.2,431.5v6.7M4126.4,431.2v7.5M4135.1,431.4v7.0M4139.5,431.6v6.5M4142.3,431.1v7.6M4149.8,431.5v7.0M4153.6,431.8v6.6M4158.8,431.8v6.7M4161.2,431.8v6.8M4166.8,432.4v6.9M4173.4,433.0v7.4M4177.7,433.3v7.3M4184.7,433.7v7.5M4190.2,433.9v7.6M4192.8,434.1v7.4M4198.5,434.7v6.7M4206.5,435.0v6.9M4209.2,435.0v7.2M4217.4,435.0v7.5M4224.3,435.6v6.6M4228.3,435.5v6.9M4235.0,435.8v6.8M4241.9,435.7v7.4M4249.9,435.9v7.5M4251.8,436.1v7.1M4258.5,436.6v6.6M4266.6,436.8v6.8M4270.4,436.6v7.2M4277.3,436.9v7.0M4283.3,436.7v7.6M4289.2,437.0v7.6M4291.3,437.4v7.0M4295.5,437.6v6.9M4298.4,437.4v7.6M4304.5,437.7v7.5M4308.6,438.3v6.8M4314.9,438.6v6.8M4318.5,438.9v6.6M4322.7,438.6v7.6M4330.1,439.0v7.6M4332.0,439.6v6.7M4339.4,439.7v7.2M4343.7,440.0v6.8M4346.0,440.1v6.6M4352.7,440.1v6.8M4361.0,440.0v7.3M4366.6,439.9v7.6M4374.6,440.3v7.1M4377.5,440.1v7.3M4386.3,440.2v7.1" fill="none" stroke="#BC3C29" stroke-width="1.35"/>
<line x1="3556.48" y1="240.37" x2="3556.48" y2="677.39" stroke="#000" stroke-width="4.50" />
<line x1="3556.48" y1="677.39" x2="4393.12" y2="677.39" stroke="#000" stroke-width="4.50" />
<line x1="3550.34" y1="260.20" x2="3554.25" y2="260.20" stroke="#000" stroke-width="4.50" />
<text x="3543.8" y="271.7" font-size="31.70" text-anchor="end">100%</text>
<line x1="3550.34" y1="359.51" x2="3554.25" y2="359.51" stroke="#000" stroke-width="4.50" />
<text x="3543.8" y="371.0" font-size="31.70" text-anchor="end">75%</text>
<line x1="3550.34" y1="458.81" x2="3554.25" y2="458.81" stroke="#000" stroke-width="4.50" />
<text x="3543.8" y="470.3" font-size="31.70" text-anchor="end">50%</text>
<line x1="3550.34" y1="558.12" x2="3554.25" y2="558.12" stroke="#000" stroke-width="4.50" />
<text x="3543.8" y="569.6" font-size="31.70" text-anchor="end">25%</text>
<line x1="3550.34" y1="657.43" x2="3554.25" y2="657.43" stroke="#000" stroke-width="4.50" />
<text x="3543.8" y="668.9" font-size="31.70" text-anchor="end">0%</text>
<line x1="3594.50" y1="679.59" x2="3594.50" y2="683.73" stroke="#000" stroke-width="4.50" />
<text x="3594.5" y="711.9" font-size="31.70" text-anchor="middle">0</text>
<line x1="3679.03" y1="679.59" x2="3679.03" y2="683.73" stroke="#000" stroke-width="4.50" />
<text x="3679.0" y="711.9" font-size="31.70" text-anchor="middle">1</text>
<line x1="3763.56" y1="679.59" x2="3763.56" y2="683.73" stroke="#000" stroke-width="4.50" />
<text x="3763.6" y="711.9" font-size="31.70" text-anchor="middle">2</text>
<line x1="3848.09" y1="679.59" x2="3848.09" y2="683.73" stroke="#000" stroke-width="4.50" />
<text x="3848.1" y="711.9" font-size="31.70" text-anchor="middle">3</text>
<line x1="3932.62" y1="679.59" x2="3932.62" y2="683.73" stroke="#000" stroke-width="4.50" />
<text x="3932.6" y="711.9" font-size="31.70" text-anchor="middle">4</text>
<line x1="4017.15" y1="679.59" x2="4017.15" y2="683.73" stroke="#000" stroke-width="4.50" />
<text x="4017.2" y="711.9" font-size="31.70" text-anchor="middle">5</text>
<line x1="4101.68" y1="679.59" x2="4101.68" y2="683.73" stroke="#000" stroke-width="4.50" />
<text x="4101.7" y="711.9" font-size="31.70" text-anchor="middle">6</text>
<line x1="4186.21" y1="679.59" x2="4186.21" y2="683.73" stroke="#000" stroke-width="4.50" />
<text x="4186.2" y="711.9" font-size="31.70" text-anchor="middle">7</text>
<line x1="4270.74" y1="679.59" x2="4270.74" y2="683.73" stroke="#000" stroke-width="4.50" />
<text x="4270.7" y="711.9" font-size="31.70" text-anchor="middle">8</text>
<line x1="4355.27" y1="679.59" x2="4355.27" y2="683.73" stroke="#000" stroke-width="4.50" />
<text x="4355.3" y="711.9" font-size="31.70" text-anchor="middle">9</text>
<text x="3974.9" y="747.7" font-size="32.38" text-anchor="middle">Survival time (Years)</text>
<text transform="translate(3457.0,459.4) rotate(-90)" font-size="32.15" text-anchor="middle">Cumulative survival probability</text>
<text x="3974.6" y="218.9" font-size="45.42" text-anchor="middle" font-weight="bold">Stage II</text>
<line x1="4138.82" y1="284.35" x2="4170.84" y2="284.35" stroke="#0072B5" stroke-width="5.13" />
<line x1="4154.74" y1="280.53" x2="4154.74" y2="288.17" stroke="#0072B5" stroke-width="1.35" />
<text x="4187.6" y="295.0" font-size="29.91" text-anchor="start">Northern center</text>
<line x1="4138.82" y1="323.92" x2="4170.84" y2="323.92" stroke="#BC3C29" stroke-width="5.13" />
<line x1="4154.74" y1="320.10" x2="4154.74" y2="327.74" stroke="#BC3C29" stroke-width="1.35" />
<text x="4187.6" y="334.7" font-size="29.91" text-anchor="start">Southern center</text>
<text x="3646.7" y="584.2" font-size="32.51" text-anchor="start">Log</text>
<line x1="3708.59" y1="575.71" x2="3724.73" y2="575.71" stroke="#000" stroke-width="1.30" />
<text x="3731.1" y="584.2" font-size="32.51" text-anchor="start">rank</text>
<text x="3610.1" y="634.5" font-size="32.51"><tspan font-style="italic">P</tspan> value</text>
<line x1="3726.40" y1="625.72" x2="3743.04" y2="625.72" stroke="#000" stroke-width="1.35" />
<line x1="3726.40" y1="631.43" x2="3743.04" y2="631.43" stroke="#000" stroke-width="1.35" />
<text x="3751.1" y="634.5" font-size="32.51" text-anchor="start">0.31</text>
<text x="3438.1" y="803.2" font-size="32.38" text-anchor="start">No. at risk</text>
<rect x="3466.38" y="837.17" width="30.62" height="9.89" fill="#0072B5"/>
<rect x="3466.38" y="871.07" width="30.62" height="9.89" fill="#BC3C29"/>
<text x="3551.6" y="852.0" font-size="25.81" text-anchor="middle">2321</text>
<text x="3640.5" y="852.0" font-size="25.81" text-anchor="middle">2136</text>
<text x="3729.5" y="852.0" font-size="25.81" text-anchor="middle">1832</text>
<text x="3818.5" y="852.0" font-size="25.81" text-anchor="middle">1599</text>
<text x="3907.5" y="852.0" font-size="25.81" text-anchor="middle">1399</text>
<text x="3996.5" y="852.0" font-size="25.81" text-anchor="middle">1138</text>
<text x="4085.5" y="852.0" font-size="25.81" text-anchor="middle">799</text>
<text x="4174.5" y="852.0" font-size="25.81" text-anchor="middle">548</text>
<text x="4263.5" y="852.0" font-size="25.81" text-anchor="middle">356</text>
<text x="4352.5" y="852.0" font-size="25.81" text-anchor="middle">181</text>
<text x="3551.6" y="885.7" font-size="25.81" text-anchor="middle">840</text>
<text x="3640.5" y="885.7" font-size="25.81" text-anchor="middle">763</text>
<text x="3729.5" y="885.7" font-size="25.81" text-anchor="middle">640</text>
<text x="3818.5" y="885.7" font-size="25.81" text-anchor="middle">569</text>
<text x="3907.5" y="885.7" font-size="25.81" text-anchor="middle">488</text>
<text x="3996.5" y="885.7" font-size="25.81" text-anchor="middle">415</text>
<text x="4085.5" y="885.7" font-size="25.81" text-anchor="middle">348</text>
<text x="4174.5" y="885.7" font-size="25.81" text-anchor="middle">301</text>
<text x="4263.5" y="885.7" font-size="25.81" text-anchor="middle">254</text>
<text x="4352.5" y="885.7" font-size="25.81" text-anchor="middle">189</text>
<rect x="3355.8" y="208.0" width="60.4" height="85.6" fill="none" stroke="#000" stroke-width="8.0"/>
<text x="3385.2" y="265.2" font-size="45.50" text-anchor="middle">3</text>
<path d="M2509.0,1129.3 L2511.5,1129.7 L2514.0,1130.1 L2516.5,1130.5 L2519.0,1130.8 L2521.5,1131.8 L2524.0,1133.2 L2526.5,1134.5 L2529.0,1135.9 L2531.5,1137.2 L2534.0,1138.6 L2536.5,1140.1 L2539.0,1141.5 L2541.5,1143.0 L2544.0,1144.5 L2546.5,1147.1 L2549.0,1149.9 L2551.5,1152.7 L2554.0,1154.8 L2556.5,1156.8 L2559.0,1158.8 L2561.5,1161.0 L2564.0,1164.0 L2566.5,1167.0 L2569.0,1170.0 L2571.5,1172.9 L2574.0,1175.6 L2576.5,1178.4 L2579.0,1181.1 L2581.5,1184.2 L2584.0,1187.4 L2586.5,1190.7 L2589.0,1193.9 L2591.5,1197.0 L2594.0,1200.0 L2596.5,1203.0 L2599.0,1205.9 L2601.5,1208.1 L2604.0,1210.4 L2606.5,1212.6 L2609.0,1215.1 L2611.5,1217.8 L2614.0,1220.6 L2616.5,1223.3 L2619.0,1225.9 L2621.5,1228.4 L2624.0,1230.9 L2626.5,1233.2 L2629.0,1235.5 L2631.5,1237.7 L2634.0,1240.0 L2636.5,1242.2 L2639.0,1244.5 L2641.5,1246.7 L2644.0,1249.1 L2646.5,1252.1 L2649.0,1255.1 L2651.5,1258.1 L2654.0,1261.1 L2656.5,1264.1 L2659.0,1267.1 L2661.5,1270.1 L2664.0,1272.9 L2666.5,1275.7 L2669.0,1278.4 L2671.5,1281.2 L2674.0,1283.7 L2676.5,1286.2 L2679.0,1288.7 L2681.5,1291.1 L2684.0,1293.1 L2686.5,1295.1 L2689.0,1297.1 L2691.5,1299.1 L2694.0,1301.1 L2696.5,1303.1 L2699.0,1305.1 L2701.5,1306.9 L2704.0,1308.7 L2706.5,1310.4 L2709.0,1312.2 L2711.5,1313.7 L2714.0,1315.2 L2716.5,1316.7 L2719.0,1318.1 L2721.5,1319.4 L2724.0,1320.6 L2726.5,1321.9 L2729.0,1323.1 L2731.5,1324.4 L2734.0,1325.6 L2736.5,1326.9 L2739.0,1328.0 L2741.5,1329.0 L2744.0,1330.0 L2746.5,1331.0 L2749.0,1332.2 L2751.5,1333.5 L2754.0,1334.7 L2756.5,1336.1 L2759.0,1337.8 L2761.5,1339.6 L2764.0,1341.3 L2766.5,1342.8 L2769.0,1344.1 L2771.5,1345.3 L2774.0,1346.6 L2776.5,1347.6 L2779.0,1348.6 L2781.5,1349.6 L2784.0,1350.6 L2786.5,1351.4 L2789.0,1352.1 L2791.5,1352.9 L2794.0,1353.8 L2796.5,1355.0 L2799.0,1356.3 L2801.5,1357.5 L2804.0,1358.6 L2806.5,1359.6 L2809.0,1360.6 L2811.5,1361.6 L2814.0,1362.6 L2816.5,1363.6 L2819.0,1364.6 L2821.5,1365.6 L2824.0,1366.6 L2826.5,1367.6 L2829.0,1368.6 L2831.5,1369.6 L2834.0,1370.3 L2836.5,1371.1 L2839.0,1371.8 L2841.5,1372.6 L2844.0,1373.3 L2846.5,1374.1 L2849.0,1374.8 L2851.5,1375.2 L2854.0,1375.4 L2856.5,1375.7 L2859.0,1376.0 L2861.5,1376.7 L2864.0,1377.5 L2866.5,1378.2 L2869.0,1379.0 L2871.5,1379.7 L2874.0,1380.5 L2876.5,1381.2 L2879.0,1382.0 L2881.5,1382.7 L2884.0,1383.5 L2886.5,1384.2 L2889.0,1384.8 L2891.5,1385.1 L2894.0,1385.4 L2896.5,1385.6 L2899.0,1385.7 L2901.5,1385.9 L2904.0,1386.0 L2906.5,1386.1 L2909.0,1386.2 L2911.5,1386.2 L2914.0,1386.2 L2916.5,1386.2 L2919.0,1386.2 L2921.5,1386.2 L2924.0,1386.3 L2926.5,1386.5 L2929.0,1386.6 L2931.5,1386.8 L2934.0,1387.0 L2936.5,1387.2 L2939.0,1387.4 L2941.5,1387.6 L2944.0,1387.8 L2946.5,1388.1 L2949.0,1388.6 L2951.5,1389.1 L2954.0,1389.6 L2956.5,1390.1 L2959.0,1390.6 L2961.5,1391.1 L2964.0,1391.6 L2966.5,1391.9 L2969.0,1392.1 L2971.5,1392.3 L2974.0,1392.5 L2976.5,1392.7 L2979.0,1392.9 L2981.5,1393.1 L2984.0,1393.3 L2986.5,1393.5 L2989.0,1393.6 L2991.5,1393.8 L2994.0,1394.0 L2996.5,1394.2 L2999.0,1394.3 L3001.5,1394.5 L3004.0,1394.7 L3006.5,1394.9 L3009.0,1395.0 L3011.5,1395.2 L3014.0,1395.4 L3016.5,1395.6 L3019.0,1395.7 L3021.5,1395.9 L3024.0,1396.1 L3026.5,1396.3 L3029.0,1396.5 L3031.5,1396.7 L3034.0,1396.9 L3036.5,1397.1 L3039.0,1397.3 L3041.5,1397.5 L3044.0,1397.6 L3046.5,1397.7 L3049.0,1397.8 L3051.5,1398.0 L3054.0,1398.1 L3056.5,1398.2 L3059.0,1398.4 L3061.5,1398.6 L3064.0,1398.9 L3066.5,1399.1 L3069.0,1399.4 L3071.5,1399.6 L3074.0,1399.9 L3076.5,1400.1 L3079.0,1400.2 L3081.5,1400.3 L3084.0,1400.3 L3086.5,1400.4 L3089.0,1400.4 L3091.5,1400.5 L3094.0,1400.5 L3096.5,1400.6 L3099.0,1400.7 L3101.5,1400.8 L3104.0,1401.0 L3106.5,1401.1 L3109.0,1401.2 L3111.5,1401.3 L3114.0,1401.5 L3116.5,1401.6 L3119.0,1401.7 L3121.5,1401.8 L3124.0,1401.9 L3126.5,1402.0 L3129.0,1402.1 L3131.5,1402.2 L3134.0,1402.3 L3136.5,1402.3 L3139.0,1402.4 L3141.5,1402.5 L3144.0,1402.6 L3146.5,1402.6 L3149.0,1402.7 L3151.5,1402.8 L3154.0,1402.9 L3156.5,1403.0 L3159.0,1403.1 L3161.5,1403.2 L3164.0,1403.3 L3166.5,1403.4 L3169.0,1403.5 L3171.5,1403.6 L3174.0,1403.6 L3176.5,1403.6 L3179.0,1403.6 L3181.5,1403.6 L3184.0,1403.6 L3186.5,1403.6 L3189.0,1403.6 L3191.5,1403.7 L3194.0,1404.0 L3196.5,1404.2 L3199.0,1404.4 L3201.5,1404.6 L3204.0,1404.9 L3206.5,1405.1 L3209.0,1405.3 L3211.5,1405.6 L3214.0,1405.8 L3216.5,1406.1 L3219.0,1406.3 L3221.5,1406.6 L3224.0,1406.8 L3226.5,1407.1 L3229.0,1407.8 L3231.5,1408.7 L3234.0,1409.6 L3236.5,1410.5 L3239.0,1410.6 L3241.5,1410.7 L3244.0,1410.9 L3246.5,1411.0 L3249.0,1411.1 L3251.5,1411.2 L3254.0,1411.4 L3256.5,1411.5 L3259.0,1411.7 L3261.5,1411.9 L3264.0,1412.0 L3266.5,1412.2 L3269.0,1412.4 L3271.5,1412.6 L3274.0,1412.7 L3276.5,1412.7 L3279.0,1412.7 L3281.5,1412.7 L3284.0,1412.7 L3286.5,1412.7 L3289.0,1412.7 L3291.5,1412.7 L3294.0,1412.7 L3296.5,1412.7 L3299.0,1412.7 L3301.5,1412.7 L3304.0,1412.7 L3306.5,1412.7 L3307.3,1412.7" fill="none" stroke="#0072B5" stroke-width="5.00" stroke-linejoin="round"/>
<path d="M2509.0,1129.3 L2511.5,1129.7 L2514.0,1130.1 L2516.5,1130.5 L2519.0,1130.8 L2521.5,1131.7 L2524.0,1132.9 L2526.5,1134.0 L2529.0,1135.2 L2531.5,1136.5 L2534.0,1139.0 L2536.5,1141.5 L2539.0,1144.2 L2541.5,1147.9 L2544.0,1151.7 L2546.5,1155.5 L2549.0,1159.9 L2551.5,1164.2 L2554.0,1168.7 L2556.5,1173.4 L2559.0,1178.0 L2561.5,1182.7 L2564.0,1187.1 L2566.5,1191.4 L2569.0,1195.7 L2571.5,1199.5 L2574.0,1203.2 L2576.5,1206.9 L2579.0,1210.4 L2581.5,1213.8 L2584.0,1217.2 L2586.5,1220.3 L2589.0,1223.4 L2591.5,1226.5 L2594.0,1229.0 L2596.5,1231.5 L2599.0,1234.0 L2601.5,1236.8 L2604.0,1239.7 L2606.5,1242.4 L2609.0,1244.9 L2611.5,1247.4 L2614.0,1249.9 L2616.5,1252.4 L2619.0,1254.9 L2621.5,1257.3 L2624.0,1259.2 L2626.5,1261.1 L2629.0,1262.9 L2631.5,1264.8 L2634.0,1266.7 L2636.5,1268.7 L2639.0,1271.7 L2641.5,1274.6 L2644.0,1277.1 L2646.5,1279.6 L2649.0,1282.1 L2651.5,1284.4 L2654.0,1286.6 L2656.5,1288.9 L2659.0,1291.1 L2661.5,1293.1 L2664.0,1295.1 L2666.5,1297.1 L2669.0,1298.8 L2671.5,1300.0 L2674.0,1301.3 L2676.5,1302.5 L2679.0,1303.6 L2681.5,1304.6 L2684.0,1305.6 L2686.5,1306.6 L2689.0,1307.8 L2691.5,1309.1 L2694.0,1310.3 L2696.5,1311.6 L2699.0,1312.8 L2701.5,1314.1 L2704.0,1315.3 L2706.5,1316.6 L2709.0,1317.8 L2711.5,1319.1 L2714.0,1320.3 L2716.5,1321.6 L2719.0,1322.8 L2721.5,1324.1 L2724.0,1325.3 L2726.5,1326.2 L2729.0,1327.1 L2731.5,1328.0 L2734.0,1328.9 L2736.5,1329.5 L2739.0,1330.1 L2741.5,1330.7 L2744.0,1331.3 L2746.5,1331.9 L2749.0,1332.5 L2751.5,1333.1 L2754.0,1333.7 L2756.5,1334.4 L2759.0,1335.0 L2761.5,1335.7 L2764.0,1336.4 L2766.5,1337.2 L2769.0,1337.9 L2771.5,1338.6 L2774.0,1339.1 L2776.5,1339.6 L2779.0,1340.1 L2781.5,1340.6 L2784.0,1341.1 L2786.5,1341.6 L2789.0,1342.1 L2791.5,1342.6 L2794.0,1343.1 L2796.5,1343.6 L2799.0,1344.1 L2801.5,1344.6 L2804.0,1345.1 L2806.5,1345.6 L2809.0,1346.2 L2811.5,1346.9 L2814.0,1347.7 L2816.5,1348.4 L2819.0,1349.0 L2821.5,1349.5 L2824.0,1350.0 L2826.5,1350.5 L2829.0,1351.0 L2831.5,1351.5 L2834.0,1352.0 L2836.5,1352.5 L2839.0,1353.0 L2841.5,1353.5 L2844.0,1354.0 L2846.5,1354.5 L2849.0,1354.7 L2851.5,1355.0 L2854.0,1355.2 L2856.5,1355.5 L2859.0,1355.7 L2861.5,1356.0 L2864.0,1356.2 L2866.5,1356.5 L2869.0,1356.7 L2871.5,1357.0 L2874.0,1357.2 L2876.5,1357.5 L2879.0,1357.7 L2881.5,1358.0 L2884.0,1358.2 L2886.5,1358.5 L2889.0,1358.7 L2891.5,1359.0 L2894.0,1359.2 L2896.5,1359.5 L2899.0,1359.8 L2901.5,1360.0 L2904.0,1360.3 L2906.5,1360.6 L2909.0,1360.8 L2911.5,1361.1 L2914.0,1361.4 L2916.5,1361.6 L2919.0,1361.9 L2921.5,1362.1 L2924.0,1362.4 L2926.5,1362.6 L2929.0,1362.9 L2931.5,1363.1 L2934.0,1363.3 L2936.5,1363.5 L2939.0,1363.7 L2941.5,1363.9 L2944.0,1364.1 L2946.5,1364.4 L2949.0,1364.6 L2951.5,1364.8 L2954.0,1365.0 L2956.5,1365.2 L2959.0,1365.4 L2961.5,1365.6 L2964.0,1365.8 L2966.5,1366.1 L2969.0,1366.3 L2971.5,1366.5 L2974.0,1366.7 L2976.5,1367.0 L2979.0,1367.2 L2981.5,1367.4 L2984.0,1367.6 L2986.5,1367.9 L2989.0,1368.1 L2991.5,1368.3 L2994.0,1368.5 L2996.5,1368.8 L2999.0,1369.0 L3001.5,1369.2 L3004.0,1369.5 L3006.5,1369.7 L3009.0,1370.0 L3011.5,1370.2 L3014.0,1370.5 L3016.5,1370.7 L3019.0,1371.0 L3021.5,1371.2 L3024.0,1371.5 L3026.5,1371.7 L3029.0,1372.0 L3031.5,1372.2 L3034.0,1372.5 L3036.5,1372.7 L3039.0,1373.0 L3041.5,1373.1 L3044.0,1373.3 L3046.5,1373.4 L3049.0,1373.6 L3051.5,1373.7 L3054.0,1373.9 L3056.5,1374.0 L3059.0,1374.2 L3061.5,1374.3 L3064.0,1374.5 L3066.5,1374.6 L3069.0,1374.8 L3071.5,1374.9 L3074.0,1375.1 L3076.5,1375.2 L3079.0,1375.4 L3081.5,1375.5 L3084.0,1375.6 L3086.5,1375.7 L3089.0,1375.8 L3091.5,1375.9 L3094.0,1376.0 L3096.5,1376.1 L3099.0,1376.2 L3101.5,1376.3 L3104.0,1376.4 L3106.5,1376.5 L3109.0,1376.6 L3111.5,1376.7 L3114.0,1376.8 L3116.5,1376.8 L3119.0,1376.8 L3121.5,1376.9 L3124.0,1376.9 L3126.5,1376.9 L3129.0,1376.9 L3131.5,1377.0 L3134.0,1377.0 L3136.5,1377.0 L3139.0,1377.0 L3141.5,1377.1 L3144.0,1377.1 L3146.5,1377.1 L3149.0,1377.1 L3151.5,1377.2 L3154.0,1377.3 L3156.5,1377.6 L3159.0,1377.8 L3161.5,1378.1 L3164.0,1378.3 L3166.5,1378.6 L3169.0,1378.8 L3171.5,1379.1 L3174.0,1379.3 L3176.5,1379.6 L3179.0,1379.8 L3181.5,1380.1 L3184.0,1380.3 L3186.5,1380.6 L3189.0,1380.8 L3191.5,1381.1 L3194.0,1381.3 L3196.5,1381.5 L3199.0,1381.7 L3201.5,1381.9 L3204.0,1382.1 L3206.5,1382.3 L3209.0,1382.5 L3211.5,1382.7 L3214.0,1382.9 L3216.5,1383.1 L3219.0,1383.3 L3221.5,1383.5 L3224.0,1383.7 L3226.5,1383.9 L3229.0,1384.0 L3231.5,1384.1 L3234.0,1384.2 L3236.5,1384.4 L3239.0,1384.5 L3241.5,1384.6 L3244.0,1384.7 L3246.5,1384.9 L3249.0,1385.0 L3251.5,1385.1 L3254.0,1385.2 L3256.5,1385.4 L3259.0,1385.5 L3261.5,1385.6 L3264.0,1385.7 L3266.5,1385.9 L3269.0,1386.0 L3271.5,1386.0 L3274.0,1386.1 L3276.5,1386.2 L3279.0,1386.3 L3281.5,1386.4 L3284.0,1386.5 L3286.5,1386.6 L3289.0,1386.7 L3291.5,1386.8 L3294.0,1386.9 L3296.5,1387.0 L3299.0,1387.1 L3301.5,1387.2 L3304.0,1387.3 L3306.5,1387.4 L3307.3,1387.5" fill="none" stroke="#BC3C29" stroke-width="5.40" stroke-linejoin="round"/>
<path d="M2511.0,1126.2v6.9M2524.5,1130.1v6.8M2541.0,1139.2v6.9M2547.0,1144.0v7.3M2555.5,1152.7v6.6M2564.1,1160.5v7.1M2567.7,1164.9v7.0M2572.8,1170.7v7.1M2579.2,1177.9v6.9M2583.7,1183.7v6.7M2585.7,1186.3v6.5M2586.9,1187.8v6.8M2590.8,1192.4v7.4M2594.9,1197.4v7.4M2598.3,1201.7v6.8M2601.3,1204.4v7.0M2603.9,1206.7v7.2M2606.4,1208.9v7.3M2608.8,1211.4v7.0M2611.9,1214.9v6.8M2616.6,1219.9v7.0M2618.5,1221.7v7.2M2619.8,1223.4v6.6M2624.2,1227.5v7.0M2626.6,1229.7v7.3M2631.5,1234.1v7.4M2633.8,1236.2v7.2M2635.1,1237.3v7.2M2639.6,1241.5v7.1M2640.9,1242.5v7.3M2642.7,1244.2v7.3M2644.7,1246.5v6.8M2649.2,1252.0v6.6M2651.3,1254.4v7.1M2655.1,1259.0v6.8M2659.7,1264.2v7.4M2664.4,1269.6v7.6M2668.6,1274.3v7.5M2673.5,1279.6v7.2M2676.1,1282.0v7.6M2679.0,1284.9v7.5M2681.7,1287.7v7.2M2682.8,1288.6v7.0M2686.2,1291.5v6.7M2688.3,1292.9v7.3M2692.3,1296.1v7.2M2697.2,1300.2v7.0M2701.0,1302.9v7.3M2702.7,1304.4v6.6M2704.4,1305.4v7.2M2708.7,1308.4v7.3M2712.6,1310.9v7.0M2714.1,1311.8v7.0M2715.2,1312.2v7.3M2718.2,1314.0v7.3M2722.3,1316.0v7.5M2723.7,1316.8v7.4M2727.7,1318.9v7.0M2730.9,1320.7v6.7M2733.6,1321.7v7.3M2737.4,1323.7v7.1M2740.3,1324.8v7.5M2745.0,1326.8v7.2M2749.5,1328.7v7.4M2752.2,1330.2v7.3M2756.1,1332.1v7.5M2759.0,1334.1v7.3M2763.3,1337.1v7.5M2766.3,1339.4v6.6M2770.8,1341.3v7.2M2774.1,1342.8v7.6M2778.6,1344.7v7.5M2780.9,1345.6v7.5M2785.7,1347.4v7.5M2790.6,1349.0v7.2M2794.9,1350.7v7.0M2798.0,1352.5v6.6M2801.8,1354.1v7.2M2805.8,1355.9v6.9M2808.4,1356.8v7.2M2813.2,1359.0v6.6M2818.1,1360.4v7.6M2822.1,1362.3v7.0M2823.3,1363.0v6.6M2827.1,1364.2v7.3M2830.4,1365.8v6.8M2834.8,1366.7v7.6M2838.9,1368.5v6.6M2840.6,1368.8v7.1M2842.9,1369.5v6.9M2847.6,1370.9v7.0M2849.0,1371.4v6.9M2853.9,1371.9v6.9M2858.4,1372.2v7.5M2861.4,1373.3v6.7M2864.5,1373.9v7.5M2866.1,1374.7v6.8M2867.7,1375.1v7.0M2869.7,1375.9v6.5M2872.6,1376.5v7.2M2874.7,1377.1v7.3M2875.9,1377.3v7.5M2877.7,1378.2v6.8M2880.0,1378.6v7.5M2884.8,1380.4v6.6M2888.9,1381.4v6.8M2891.6,1381.6v7.0M2895.2,1381.8v7.4M2900.1,1382.2v7.1M2902.3,1382.2v7.5M2903.9,1382.4v7.2M2906.5,1382.7v6.8M2911.2,1382.5v7.5M2915.4,1382.8v6.9M2917.8,1382.8v6.8M2921.1,1382.5v7.3M2923.5,1383.0v6.6M2928.1,1383.1v6.9M2929.5,1383.2v6.8M2933.7,1383.7v6.6M2936.8,1383.5v7.4M2940.6,1384.3v6.5M2945.2,1384.4v7.0M2946.5,1384.7v6.8M2950.2,1385.1v7.6M2953.9,1386.1v7.0M2958.0,1386.9v6.9M2962.7,1387.7v7.2M2967.0,1388.6v6.7M2968.2,1388.5v7.0M2971.1,1388.9v6.6M2972.4,1388.7v7.4M2975.7,1388.9v7.4M2979.7,1389.3v7.3M2981.9,1389.8v6.6M2986.6,1390.1v6.8M2988.7,1390.0v7.2M2991.2,1390.2v7.1M2993.6,1390.5v6.9M2997.0,1390.6v7.3M3001.8,1390.8v7.4M3006.2,1391.6v6.5M3008.5,1391.4v7.2M3013.0,1392.0v6.7M3017.4,1392.1v7.2M3021.4,1392.2v7.4M3023.0,1392.5v7.1M3025.8,1392.5v7.4M3029.4,1393.0v7.1M3032.3,1393.3v6.9M3037.1,1393.6v7.1M3041.9,1393.7v7.6M3044.1,1394.1v7.1M3048.5,1394.5v6.6M3050.3,1394.3v7.3M3051.7,1394.5v7.0M3053.6,1394.5v7.1M3055.8,1394.7v6.9M3058.1,1394.8v7.0M3059.3,1394.7v7.5M3063.6,1395.2v7.4M3067.3,1395.9v6.6M3071.1,1395.8v7.6M3075.6,1396.5v7.1M3078.8,1396.5v7.4M3083.0,1397.0v6.6M3085.7,1396.9v6.9M3088.5,1397.0v6.8M3091.0,1396.7v7.5M3093.8,1396.9v7.1M3098.6,1397.3v6.8M3100.3,1397.0v7.5M3102.0,1397.3v7.0M3106.7,1397.3v7.6M3108.2,1397.6v7.2M3109.6,1397.5v7.4M3111.3,1397.6v7.5M3113.9,1398.2v6.6M3117.5,1398.3v6.7M3120.8,1398.4v6.8M3121.9,1398.0v7.6M3125.8,1398.2v7.5M3127.5,1398.6v6.9M3129.0,1398.3v7.6M3132.5,1398.8v7.0M3134.1,1398.7v7.3M3136.6,1398.9v6.9M3139.8,1398.6v7.6M3141.6,1399.2v6.7M3144.9,1398.9v7.5M3149.4,1399.3v6.9M3153.5,1399.3v7.2M3154.6,1399.6v6.6M3155.9,1399.3v7.3M3159.9,1399.5v7.2M3162.1,1399.8v6.9M3164.6,1399.8v7.1M3168.1,1399.8v7.3M3172.0,1399.9v7.4M3176.0,1400.0v7.2M3179.3,1399.9v7.3M3181.8,1400.1v6.9M3183.6,1400.2v6.7M3185.4,1400.2v6.7M3190.2,1399.9v7.5M3193.2,1400.3v7.2M3194.7,1400.3v7.5M3198.2,1400.9v6.9M3200.0,1401.2v6.6M3201.1,1400.9v7.4M3202.6,1401.3v6.8M3207.5,1401.6v7.1M3212.1,1402.4v6.6M3213.3,1402.4v6.7M3216.4,1402.8v6.6M3220.6,1402.8v7.4M3223.9,1403.1v7.3M3225.4,1403.6v6.7M3226.7,1403.8v6.8M3231.3,1405.1v7.1M3233.0,1405.5v7.5M3235.8,1406.9v6.7M3237.0,1407.0v7.0M3238.8,1407.3v6.5M3241.6,1407.2v7.1M3243.5,1407.3v7.2M3246.8,1407.6v6.8M3249.6,1407.6v7.0M3252.9,1407.9v6.9M3254.0,1408.0v6.8M3256.3,1407.8v7.5M3257.4,1408.1v7.0M3262.3,1408.4v7.1M3264.3,1408.3v7.5M3266.5,1408.7v6.9M3267.9,1408.8v7.0M3270.1,1409.1v6.8M3271.6,1408.9v7.4M3276.4,1409.4v6.6M3281.1,1409.1v7.2M3285.5,1409.1v7.2M3289.2,1409.3v6.8M3293.6,1409.4v6.7M3296.3,1409.3v6.8M3300.5,1409.1v7.2M3303.0,1409.4v6.6M3307.2,1409.0v7.4" fill="none" stroke="#0072B5" stroke-width="1.35"/>
<path d="M2512.4,1126.1v7.5M2529.2,1131.9v6.9M2547.4,1153.6v7.0M2552.5,1162.5v7.0M2556.7,1170.4v6.6M2561.5,1179.2v7.2M2564.9,1185.2v7.0M2568.7,1191.7v6.9M2573.2,1198.5v7.1M2575.4,1201.9v6.8M2581.4,1210.2v6.9M2582.7,1212.0v7.0M2585.9,1216.1v6.8M2588.2,1218.8v7.4M2590.2,1221.2v7.3M2591.9,1223.3v7.1M2594.9,1226.1v7.6M2597.0,1228.5v7.1M2598.9,1230.6v6.6M2600.0,1231.5v7.1M2601.9,1233.6v7.5M2604.1,1236.0v7.4M2605.6,1237.8v7.2M2608.1,1240.6v6.9M2609.8,1242.1v7.2M2610.7,1242.9v7.5M2613.3,1245.8v7.0M2615.7,1248.0v7.3M2616.8,1249.0v7.3M2618.8,1251.0v7.3M2619.8,1252.0v7.2M2621.8,1254.2v6.6M2623.2,1255.1v7.0M2625.5,1256.7v7.3M2627.9,1258.5v7.3M2628.8,1258.9v7.6M2630.2,1260.3v7.1M2630.9,1260.7v7.2M2633.7,1262.7v7.5M2635.3,1264.3v6.8M2637.6,1266.6v6.8M2640.8,1270.3v6.9M2643.1,1272.9v6.7M2644.7,1274.5v6.5M2646.5,1275.8v7.6M2647.4,1276.9v7.2M2649.5,1279.3v6.6M2651.2,1280.6v7.0M2653.3,1282.7v6.6M2655.4,1284.6v6.7M2656.7,1285.4v7.3M2659.4,1288.0v6.9M2660.7,1288.8v7.3M2662.0,1290.0v7.1M2665.2,1292.6v6.9M2666.3,1293.6v6.7M2668.0,1294.4v7.5M2669.0,1295.5v6.6M2671.9,1296.7v7.1M2673.9,1297.6v7.4M2676.9,1299.1v7.1M2677.9,1299.9v6.5M2678.7,1299.9v7.1M2680.3,1300.7v6.8M2681.1,1300.9v7.0M2684.1,1302.2v7.0M2686.4,1302.8v7.6M2688.1,1303.8v7.0M2690.1,1305.0v6.7M2691.5,1305.5v7.2M2692.9,1306.4v6.7M2693.7,1306.6v7.0M2695.2,1307.6v6.6M2698.1,1309.0v6.8M2699.2,1309.4v7.0M2702.4,1310.9v7.2M2704.9,1312.0v7.6M2705.7,1312.9v6.6M2707.4,1313.4v7.3M2709.4,1314.7v6.8M2711.6,1315.7v6.8M2714.7,1317.1v7.1M2717.1,1318.6v6.6M2718.8,1318.9v7.6M2721.2,1320.5v6.9M2723.9,1321.7v7.2M2726.0,1322.7v6.6M2729.0,1323.5v7.2M2731.3,1324.3v7.4M2733.8,1325.6v6.5M2735.2,1325.8v6.8M2736.2,1326.0v6.8M2739.1,1326.3v7.6M2741.4,1327.0v7.4M2742.2,1327.1v7.5M2743.4,1327.7v6.9M2746.0,1328.3v7.0M2747.2,1328.7v6.8M2749.0,1329.2v6.6M2750.2,1329.5v6.6M2752.4,1329.9v6.8M2754.4,1330.2v7.2M2756.3,1330.8v7.0M2758.1,1331.3v6.9M2760.3,1331.6v7.5M2762.9,1332.8v6.6M2765.5,1333.1v7.6M2766.9,1333.7v7.2M2767.9,1333.8v7.6M2769.4,1334.3v7.4M2771.0,1334.9v7.1M2773.5,1335.5v7.0M2776.0,1336.0v7.0M2777.4,1336.5v6.6M2779.6,1336.6v7.2M2781.8,1337.4v6.5M2782.6,1337.6v6.5M2783.9,1337.8v6.5M2786.9,1338.1v7.1M2789.3,1338.5v7.3M2791.9,1338.9v7.6M2793.0,1339.2v7.4M2795.8,1339.8v7.2M2797.7,1340.1v7.6M2800.5,1341.1v6.5M2802.9,1341.2v7.4M2803.6,1341.4v7.3M2806.3,1341.8v7.5M2807.3,1342.2v7.2M2809.4,1342.9v6.8M2810.1,1343.1v6.8M2810.9,1343.2v7.0M2811.7,1343.7v6.6M2813.6,1344.2v6.7M2814.9,1344.5v7.0M2816.8,1345.1v6.7M2819.2,1345.5v7.1M2822.4,1346.1v7.2M2825.0,1346.6v7.3M2827.8,1347.4v6.8M2828.9,1347.2v7.6M2831.3,1347.8v7.3M2833.1,1348.4v6.8M2834.6,1348.7v6.9M2837.4,1349.2v6.9M2839.7,1349.6v7.1M2841.7,1349.8v7.5M2844.3,1350.8v6.5M2845.6,1350.6v7.4M2846.6,1351.0v7.0M2848.3,1351.0v7.3M2850.9,1351.5v6.9M2853.9,1351.7v7.0M2855.8,1351.8v7.2M2857.8,1351.8v7.6M2859.4,1352.2v7.1M2861.0,1352.2v7.4M2862.8,1352.8v6.6M2864.8,1352.9v6.7M2866.6,1352.8v7.5M2867.4,1352.9v7.4M2868.8,1352.9v7.5M2870.9,1353.5v6.9M2873.4,1353.6v7.0M2875.5,1354.0v6.7M2877.0,1354.3v6.6M2879.9,1354.4v6.8M2881.2,1354.3v7.4M2883.1,1354.6v7.0M2885.6,1354.8v7.2M2886.5,1354.9v7.1M2887.8,1355.0v7.2M2889.7,1355.3v6.9M2890.9,1355.3v7.4M2892.0,1355.6v6.9M2894.6,1355.6v7.3M2895.8,1355.9v7.0M2897.9,1356.0v7.3M2900.4,1356.3v7.3M2903.2,1356.8v6.8M2905.5,1357.1v6.7M2906.5,1356.8v7.6M2909.1,1357.5v6.6M2910.5,1357.3v7.4M2911.7,1357.7v6.8M2913.8,1357.8v7.2M2915.3,1358.3v6.5M2918.5,1358.5v6.8M2921.1,1358.5v7.1M2924.1,1358.8v7.3M2926.7,1358.9v7.5M2927.8,1359.4v6.7M2928.6,1359.2v7.4M2931.3,1359.5v7.2M2933.5,1359.8v6.9M2936.3,1359.7v7.6M2938.9,1360.4v6.6M2939.9,1360.0v7.5M2940.8,1360.2v7.3M2941.5,1360.5v6.8M2944.5,1360.6v7.1M2947.4,1361.0v7.0M2950.0,1361.2v6.9M2950.9,1361.0v7.6M2951.9,1361.5v6.6M2954.4,1361.4v7.3M2956.7,1361.4v7.6M2958.0,1361.6v7.4M2959.2,1361.9v7.0M2962.0,1362.1v7.1M2965.1,1362.3v7.3M2966.4,1362.8v6.7M2967.7,1362.5v7.3M2969.6,1362.8v7.1M2972.0,1363.2v6.6M2972.8,1363.3v6.7M2975.0,1363.4v6.8M2975.8,1363.4v7.0M2978.5,1363.9v6.5M2981.0,1364.0v6.7M2983.8,1363.8v7.6M2984.5,1363.9v7.5M2985.8,1364.1v7.5M2987.1,1364.5v6.9M2989.8,1364.4v7.6M2990.7,1364.7v7.1M2993.8,1364.8v7.3M2994.6,1364.9v7.3M2996.0,1364.9v7.6M2998.2,1365.6v6.8M2999.3,1365.8v6.5M3002.4,1366.1v6.5M3003.8,1366.0v6.9M3005.3,1366.2v6.8M3008.3,1366.2v7.5M3011.1,1366.8v6.8M3012.7,1366.6v7.4M3014.8,1367.2v6.6M3017.2,1367.1v7.3M3019.8,1367.3v7.6M3022.0,1367.5v7.6M3023.8,1368.0v6.9M3024.8,1368.1v6.9M3026.7,1368.4v6.7M3028.7,1368.4v7.1M3031.4,1368.6v7.2M3033.6,1369.2v6.6M3036.7,1369.3v6.8M3039.8,1369.2v7.6M3041.3,1369.6v7.0M3042.7,1369.5v7.3M3045.1,1370.0v6.7M3046.7,1369.8v7.2M3049.5,1370.0v7.2M3051.0,1370.3v6.8M3051.7,1370.0v7.4M3052.8,1370.5v6.6M3054.5,1370.6v6.7M3057.4,1370.7v6.8M3058.1,1370.6v7.1M3060.0,1370.6v7.3M3062.7,1370.8v7.2M3064.1,1370.9v7.3M3066.5,1370.9v7.3M3069.1,1371.5v6.5M3071.6,1371.2v7.5M3073.1,1371.7v6.6M3075.3,1371.5v7.3M3076.1,1371.4v7.5M3078.5,1371.8v7.2M3080.2,1372.0v7.0M3081.7,1372.2v6.6M3084.7,1372.0v7.3M3087.2,1372.1v7.2M3090.2,1372.5v6.6M3091.2,1372.5v6.8M3094.3,1372.3v7.5M3096.0,1372.5v7.2M3098.9,1372.8v6.8M3101.2,1372.8v6.9M3102.8,1372.9v6.9M3105.5,1373.0v6.9M3108.2,1373.3v6.6M3108.9,1372.8v7.5M3109.7,1373.1v7.0M3111.3,1373.3v6.7M3112.8,1372.9v7.6M3115.4,1373.0v7.5M3117.0,1373.4v6.9M3118.4,1373.2v7.2M3119.6,1373.1v7.5M3122.6,1373.5v6.8M3124.9,1373.3v7.3M3126.1,1373.5v6.7M3128.5,1373.1v7.5M3129.4,1373.2v7.4M3132.2,1373.2v7.6M3133.7,1373.4v7.2M3135.1,1373.7v6.6M3136.4,1373.3v7.4M3138.9,1373.5v7.0M3140.4,1373.7v6.8M3143.1,1373.4v7.4M3145.9,1373.4v7.3M3147.0,1373.7v6.8M3147.9,1373.6v6.9M3148.6,1373.3v7.6M3150.4,1373.9v6.5M3152.4,1373.8v6.8M3153.1,1374.0v6.5M3154.9,1373.7v7.5M3157.8,1373.9v7.6M3158.9,1374.4v6.8M3160.1,1374.5v6.8M3162.8,1374.7v7.1M3164.9,1375.1v6.6M3165.7,1375.1v6.8M3168.8,1375.5v6.6M3170.1,1375.5v6.8M3172.3,1375.7v7.0M3173.9,1375.7v7.3M3175.4,1375.9v7.2M3177.3,1376.1v7.2M3178.7,1376.0v7.5M3180.0,1376.3v7.2M3182.8,1376.8v6.9M3184.4,1376.8v7.0M3187.0,1376.9v7.5M3189.4,1377.6v6.6M3192.3,1377.8v6.7M3193.3,1377.5v7.4M3196.4,1377.8v7.5M3198.2,1378.0v7.3M3201.1,1378.5v6.7M3202.8,1378.4v7.3M3205.0,1378.7v6.9M3206.0,1378.7v7.2M3208.3,1378.9v7.1M3209.7,1379.1v7.0M3212.3,1379.0v7.6M3214.4,1379.1v7.6M3215.8,1379.5v7.1M3216.8,1379.4v7.4M3219.2,1380.0v6.6M3221.0,1380.1v6.6M3223.8,1380.1v7.1M3225.4,1380.5v6.7M3228.6,1380.4v7.1M3230.6,1380.7v6.8M3232.0,1380.4v7.5M3234.2,1380.7v7.1M3236.9,1380.6v7.6M3239.9,1380.8v7.4M3241.5,1381.2v6.8M3242.4,1380.9v7.5M3243.1,1381.2v7.0M3245.2,1381.3v7.0M3245.9,1381.5v6.7M3248.6,1381.6v6.8M3251.1,1381.8v6.5M3253.8,1381.7v6.9M3254.9,1381.9v6.7M3256.0,1381.6v7.5M3257.6,1381.8v7.3M3259.5,1382.1v6.8M3261.9,1382.2v6.9M3263.4,1382.3v6.7M3265.2,1382.4v6.8M3266.6,1382.1v7.6M3268.1,1382.5v6.8M3270.6,1382.4v7.1M3272.3,1382.8v6.6M3274.5,1382.7v6.9M3276.0,1382.7v7.0M3277.0,1382.8v6.8M3278.0,1382.7v7.1M3281.2,1382.7v7.3M3283.3,1383.1v6.8M3284.2,1383.1v6.8M3287.2,1383.1v7.1M3288.2,1383.2v6.9M3290.1,1383.5v6.6M3291.9,1383.2v7.2M3293.9,1383.4v6.9M3296.0,1383.6v6.7M3297.3,1383.5v7.0M3298.4,1383.6v6.9M3299.3,1383.8v6.6M3300.7,1383.7v6.9M3302.3,1383.9v6.6M3304.9,1384.0v6.7M3305.6,1383.7v7.4M3306.5,1383.8v7.3" fill="none" stroke="#BC3C29" stroke-width="1.35"/>
<line x1="2470.98" y1="1108.87" x2="2470.98" y2="1545.89" stroke="#000" stroke-width="4.50" />
<line x1="2470.98" y1="1545.89" x2="3307.62" y2="1545.89" stroke="#000" stroke-width="4.50" />
<line x1="2464.84" y1="1128.70" x2="2468.75" y2="1128.70" stroke="#000" stroke-width="4.50" />
<text x="2458.3" y="1140.2" font-size="31.70" text-anchor="end">100%</text>
<line x1="2464.84" y1="1228.01" x2="2468.75" y2="1228.01" stroke="#000" stroke-width="4.50" />
<text x="2458.3" y="1239.5" font-size="31.70" text-anchor="end">75%</text>
<line x1="2464.84" y1="1327.31" x2="2468.75" y2="1327.31" stroke="#000" stroke-width="4.50" />
<text x="2458.3" y="1338.8" font-size="31.70" text-anchor="end">50%</text>
<line x1="2464.84" y1="1426.62" x2="2468.75" y2="1426.62" stroke="#000" stroke-width="4.50" />
<text x="2458.3" y="1438.1" font-size="31.70" text-anchor="end">25%</text>
<line x1="2464.84" y1="1525.93" x2="2468.75" y2="1525.93" stroke="#000" stroke-width="4.50" />
<text x="2458.3" y="1537.4" font-size="31.70" text-anchor="end">0%</text>
<line x1="2509.00" y1="1548.09" x2="2509.00" y2="1552.23" stroke="#000" stroke-width="4.50" />
<text x="2509.0" y="1580.4" font-size="31.70" text-anchor="middle">0</text>
<line x1="2593.53" y1="1548.09" x2="2593.53" y2="1552.23" stroke="#000" stroke-width="4.50" />
<text x="2593.5" y="1580.4" font-size="31.70" text-anchor="middle">1</text>
<line x1="2678.06" y1="1548.09" x2="2678.06" y2="1552.23" stroke="#000" stroke-width="4.50" />
<text x="2678.1" y="1580.4" font-size="31.70" text-anchor="middle">2</text>
<line x1="2762.59" y1="1548.09" x2="2762.59" y2="1552.23" stroke="#000" stroke-width="4.50" />
<text x="2762.6" y="1580.4" font-size="31.70" text-anchor="middle">3</text>
<line x1="2847.12" y1="1548.09" x2="2847.12" y2="1552.23" stroke="#000" stroke-width="4.50" />
<text x="2847.1" y="1580.4" font-size="31.70" text-anchor="middle">4</text>
<line x1="2931.65" y1="1548.09" x2="2931.65" y2="1552.23" stroke="#000" stroke-width="4.50" />
<text x="2931.7" y="1580.4" font-size="31.70" text-anchor="middle">5</text>
<line x1="3016.18" y1="1548.09" x2="3016.18" y2="1552.23" stroke="#000" stroke-width="4.50" />
<text x="3016.2" y="1580.4" font-size="31.70" text-anchor="middle">6</text>
<line x1="3100.71" y1="1548.09" x2="3100.71" y2="1552.23" stroke="#000" stroke-width="4.50" />
<text x="3100.7" y="1580.4" font-size="31.70" text-anchor="middle">7</text>
<line x1="3185.24" y1="1548.09" x2="3185.24" y2="1552.23" stroke="#000" stroke-width="4.50" />
<text x="3185.2" y="1580.4" font-size="31.70" text-anchor="middle">8</text>
<line x1="3269.77" y1="1548.09" x2="3269.77" y2="1552.23" stroke="#000" stroke-width="4.50" />
<text x="3269.8" y="1580.4" font-size="31.70" text-anchor="middle">9</text>
<text x="2889.4" y="1616.2" font-size="32.38" text-anchor="middle">Survival time (Years)</text>
<text transform="translate(2371.5,1327.9) rotate(-90)" font-size="32.15" text-anchor="middle">Cumulative survival probability</text>
<text x="2889.1" y="1087.4" font-size="45.42" text-anchor="middle" font-weight="bold">Stage III</text>
<line x1="3053.32" y1="1152.85" x2="3085.34" y2="1152.85" stroke="#0072B5" stroke-width="5.13" />
<line x1="3069.24" y1="1149.03" x2="3069.24" y2="1156.67" stroke="#0072B5" stroke-width="1.35" />
<text x="3102.1" y="1163.5" font-size="29.91" text-anchor="start">Northern center</text>
<line x1="3053.32" y1="1192.42" x2="3085.34" y2="1192.42" stroke="#BC3C29" stroke-width="5.13" />
<line x1="3069.24" y1="1188.60" x2="3069.24" y2="1196.24" stroke="#BC3C29" stroke-width="1.35" />
<text x="3102.1" y="1203.2" font-size="29.91" text-anchor="start">Southern center</text>
<text x="2561.2" y="1452.7" font-size="32.51" text-anchor="start">Log</text>
<line x1="2623.09" y1="1444.21" x2="2639.23" y2="1444.21" stroke="#000" stroke-width="1.30" />
<text x="2645.6" y="1452.7" font-size="32.51" text-anchor="start">rank</text>
<text x="2524.6" y="1503.0" font-size="32.51"><tspan font-style="italic">P</tspan> value</text>
<line x1="2640.90" y1="1494.22" x2="2657.54" y2="1494.22" stroke="#000" stroke-width="1.35" />
<line x1="2640.90" y1="1499.93" x2="2657.54" y2="1499.93" stroke="#000" stroke-width="1.35" />
<text x="2665.6" y="1503.0" font-size="32.51" text-anchor="start">0.261</text>
<text x="2352.6" y="1671.7" font-size="32.38" text-anchor="start">No. at risk</text>
<rect x="2380.88" y="1705.67" width="30.62" height="9.89" fill="#0072B5"/>
<rect x="2380.88" y="1739.57" width="30.62" height="9.89" fill="#BC3C29"/>
<text x="2466.1" y="1720.5" font-size="25.81" text-anchor="middle">1754</text>
<text x="2555.0" y="1720.5" font-size="25.81" text-anchor="middle">1407</text>
<text x="2644.0" y="1720.5" font-size="25.81" text-anchor="middle">995</text>
<text x="2733.0" y="1720.5" font-size="25.81" text-anchor="middle">756</text>
<text x="2822.0" y="1720.5" font-size="25.81" text-anchor="middle">596</text>
<text x="2911.0" y="1720.5" font-size="25.81" text-anchor="middle">449</text>
<text x="3000.0" y="1720.5" font-size="25.81" text-anchor="middle">311</text>
<text x="3089.0" y="1720.5" font-size="25.81" text-anchor="middle">210</text>
<text x="3178.0" y="1720.5" font-size="25.81" text-anchor="middle">136</text>
<text x="3267.0" y="1720.5" font-size="25.81" text-anchor="middle">66</text>
<text x="2466.1" y="1754.2" font-size="25.81" text-anchor="middle">2340</text>
<text x="2555.0" y="1754.2" font-size="25.81" text-anchor="middle">1736</text>
<text x="2644.0" y="1754.2" font-size="25.81" text-anchor="middle">1262</text>
<text x="2733.0" y="1754.2" font-size="25.81" text-anchor="middle">1065</text>
<text x="2822.0" y="1754.2" font-size="25.81" text-anchor="middle">843</text>
<text x="2911.0" y="1754.2" font-size="25.81" text-anchor="middle">691</text>
<text x="3000.0" y="1754.2" font-size="25.81" text-anchor="middle">555</text>
<text x="3089.0" y="1754.2" font-size="25.81" text-anchor="middle">455</text>
<text x="3178.0" y="1754.2" font-size="25.81" text-anchor="middle">342</text>
<text x="3267.0" y="1754.2" font-size="25.81" text-anchor="middle">247</text>
<rect x="2273.2" y="1071.2" width="60.4" height="85.6" fill="none" stroke="#000" stroke-width="8.0"/>
<text x="2302.6" y="1128.4" font-size="45.50" text-anchor="middle">4</text>
<path d="M3594.5,1132.1 L3596.5,1132.1 L3598.5,1133.5 L3600.5,1135.5 L3602.5,1137.5 L3604.5,1139.5 L3606.5,1141.9 L3608.5,1144.4 L3610.5,1146.9 L3612.5,1149.4 L3614.5,1151.4 L3616.5,1153.4 L3618.5,1155.4 L3620.5,1157.9 L3622.5,1161.9 L3624.5,1165.9 L3626.5,1169.9 L3628.5,1173.9 L3630.5,1177.9 L3632.5,1182.3 L3634.5,1186.9 L3636.5,1191.4 L3638.5,1196.7 L3640.5,1203.1 L3642.5,1209.4 L3644.5,1214.1 L3646.5,1218.8 L3648.5,1223.4 L3650.5,1228.1 L3652.5,1232.8 L3654.5,1237.4 L3656.5,1242.1 L3658.5,1246.8 L3660.5,1250.8 L3662.5,1254.5 L3664.5,1258.2 L3666.5,1263.1 L3668.5,1268.3 L3670.5,1272.9 L3672.5,1276.9 L3674.5,1280.9 L3676.5,1284.5 L3678.5,1287.8 L3680.5,1291.1 L3682.5,1295.0 L3684.5,1299.0 L3686.5,1303.0 L3688.5,1305.6 L3690.5,1308.1 L3692.5,1310.7 L3694.5,1314.4 L3696.5,1318.4 L3698.5,1321.6 L3700.5,1323.8 L3702.5,1326.1 L3704.5,1328.3 L3706.5,1330.9 L3708.5,1334.9 L3710.5,1338.9 L3712.5,1341.4 L3714.5,1341.9 L3716.5,1342.4 L3718.5,1342.9 L3720.5,1344.9 L3722.5,1347.9 L3724.5,1350.9 L3726.5,1354.1 L3728.5,1357.4 L3730.5,1360.5 L3732.5,1361.8 L3734.5,1363.0 L3736.5,1363.9 L3738.5,1364.9 L3740.5,1366.1 L3742.5,1367.9 L3744.5,1369.8 L3746.5,1371.7 L3748.5,1373.6 L3750.5,1374.8 L3752.5,1375.3 L3754.5,1375.7 L3756.5,1376.2 L3758.5,1376.6 L3760.5,1377.0 L3762.5,1377.6 L3764.5,1378.5 L3766.5,1379.4 L3768.5,1380.3 L3770.5,1381.2 L3772.5,1382.1 L3774.5,1383.0 L3776.5,1383.6 L3778.5,1384.3 L3780.5,1384.9 L3782.5,1385.5 L3784.5,1386.1 L3786.5,1386.8 L3788.5,1387.4 L3790.5,1388.1 L3792.5,1389.0 L3794.5,1390.1 L3796.5,1391.3 L3798.5,1392.4 L3800.5,1393.5 L3802.5,1394.5 L3804.5,1395.2 L3806.5,1395.5 L3808.5,1395.7 L3810.5,1395.8 L3812.5,1396.0 L3814.5,1396.1 L3816.5,1396.3 L3818.5,1396.9 L3820.5,1398.4 L3822.5,1400.0 L3824.5,1401.6 L3826.5,1403.1 L3828.5,1404.7 L3830.5,1406.2 L3832.5,1407.2 L3834.5,1407.8 L3836.5,1408.5 L3838.5,1409.1 L3840.5,1409.7 L3842.5,1410.3 L3844.5,1411.0 L3846.5,1411.7 L3848.5,1412.9 L3850.5,1414.1 L3852.5,1415.3 L3854.5,1416.5 L3856.5,1417.2 L3858.5,1417.5 L3860.5,1417.8 L3862.5,1418.0 L3864.5,1418.3 L3866.5,1418.6 L3868.5,1418.9 L3870.5,1419.1 L3872.5,1419.4 L3874.5,1419.7 L3876.5,1419.9 L3878.5,1420.2 L3880.5,1420.4 L3882.5,1420.6 L3884.5,1420.8 L3886.5,1421.1 L3888.5,1421.3 L3890.5,1421.5 L3892.5,1421.7 L3894.5,1422.2 L3896.5,1422.8 L3898.5,1423.4 L3900.5,1424.0 L3902.5,1424.7 L3904.5,1425.7 L3906.5,1426.7 L3908.5,1427.7 L3910.5,1428.7 L3912.5,1429.3 L3914.5,1429.4 L3916.5,1429.5 L3918.5,1429.6 L3920.5,1429.8 L3922.5,1429.9 L3924.5,1430.0 L3926.5,1430.1 L3928.5,1430.2 L3930.5,1430.8 L3932.5,1431.3 L3934.5,1431.9 L3936.5,1432.5 L3938.5,1433.1 L3940.5,1433.6 L3942.5,1434.1 L3944.5,1434.4 L3946.5,1434.6 L3948.5,1434.9 L3950.5,1435.2 L3952.5,1435.5 L3954.5,1435.8 L3956.5,1436.5 L3958.5,1437.3 L3960.5,1438.0 L3962.5,1438.8 L3964.5,1439.6 L3966.5,1440.1 L3968.5,1440.1 L3970.5,1440.1 L3972.5,1440.5 L3974.5,1441.4 L3976.5,1442.2 L3978.5,1443.1 L3980.5,1443.3 L3982.5,1443.3 L3984.5,1443.3 L3986.5,1444.5 L3988.5,1445.9 L3990.5,1447.2 L3992.5,1448.4 L3994.5,1448.4 L3996.5,1448.4 L3998.5,1448.4 L4000.5,1448.4 L4002.5,1448.4 L4004.5,1448.4 L4006.5,1448.4 L4008.5,1448.4 L4010.5,1448.4 L4012.5,1448.4 L4014.5,1448.4 L4016.5,1448.4 L4018.5,1448.4 L4020.5,1448.7 L4022.5,1449.0 L4024.5,1449.3 L4026.5,1449.7 L4028.5,1449.9 L4030.5,1449.9 L4032.5,1449.9 L4034.5,1449.9 L4036.5,1449.9 L4038.5,1449.9 L4040.5,1449.9 L4042.5,1449.9 L4044.5,1449.9 L4046.5,1449.9 L4048.5,1449.9 L4050.5,1449.9 L4052.5,1449.9 L4054.5,1449.9 L4056.5,1449.9 L4058.5,1449.9 L4060.5,1449.9 L4062.5,1449.9 L4064.5,1449.9 L4066.5,1450.3 L4068.5,1451.0 L4070.5,1451.6 L4072.5,1451.8 L4074.5,1452.0 L4076.5,1452.1 L4078.5,1452.2 L4080.5,1452.3 L4082.5,1452.5 L4084.5,1452.6 L4086.5,1452.7 L4088.5,1452.9 L4090.5,1453.0 L4092.5,1453.0 L4094.5,1453.1 L4096.5,1453.2 L4098.5,1453.3 L4100.5,1453.3 L4102.5,1453.4 L4104.5,1454.0 L4106.5,1457.8 L4108.5,1458.3 L4110.5,1458.8 L4112.5,1459.3 L4114.5,1459.8 L4116.5,1460.3 L4118.5,1460.5 L4120.5,1460.5 L4122.5,1460.5 L4124.5,1460.5 L4126.5,1460.5 L4128.5,1460.5 L4130.5,1460.5 L4132.5,1460.5 L4134.5,1460.5 L4136.5,1460.5 L4138.5,1460.5 L4140.5,1460.5 L4142.5,1460.5 L4144.5,1461.2 L4146.5,1462.7 L4148.5,1463.3 L4150.5,1463.3 L4152.5,1463.3 L4154.5,1463.3 L4156.5,1463.3 L4158.5,1463.3 L4160.5,1463.3 L4162.5,1463.3 L4164.5,1463.3 L4166.5,1463.3 L4168.5,1463.3 L4170.5,1463.3 L4172.5,1463.3 L4174.5,1463.3 L4176.5,1463.3 L4178.5,1463.3 L4180.5,1463.3 L4182.5,1463.3 L4184.5,1466.1 L4186.5,1466.5 L4188.5,1466.5 L4190.5,1466.5 L4192.5,1466.5 L4194.5,1466.5 L4196.5,1466.5 L4198.5,1466.5 L4200.5,1466.5 L4202.5,1466.5 L4204.5,1466.5 L4206.5,1466.5 L4208.5,1466.5 L4210.5,1466.5 L4212.5,1466.5 L4214.5,1466.5 L4216.5,1466.5 L4218.5,1466.5 L4220.5,1466.5 L4222.5,1466.5 L4224.5,1466.5 L4226.5,1466.5 L4228.5,1466.5 L4230.5,1466.5 L4232.5,1466.5 L4234.5,1466.5 L4236.5,1466.5 L4238.5,1466.5 L4240.5,1466.5 L4242.5,1466.5 L4244.5,1466.5 L4246.5,1466.5 L4248.5,1466.5 L4250.5,1466.5 L4252.5,1466.5 L4254.5,1466.5 L4256.5,1466.5 L4258.5,1466.5 L4260.5,1466.5 L4262.5,1466.5 L4264.5,1466.5 L4266.5,1466.5 L4268.5,1466.5 L4270.5,1470.1 L4272.5,1471.2 L4274.5,1471.2 L4276.5,1471.2 L4278.5,1471.2 L4280.5,1471.2 L4282.5,1471.2 L4284.5,1471.2 L4286.5,1471.2 L4288.5,1471.2 L4290.5,1471.2 L4292.5,1471.2 L4294.5,1471.2 L4296.5,1471.2 L4298.5,1471.2 L4300.5,1471.2 L4302.5,1471.2 L4304.5,1471.2 L4306.5,1471.2 L4308.5,1471.2 L4310.5,1471.2 L4312.5,1471.2 L4314.5,1471.2 L4316.5,1471.2 L4318.5,1471.2 L4320.5,1471.2 L4322.5,1471.2 L4324.5,1471.2 L4326.5,1471.2 L4328.5,1471.2 L4330.5,1471.2 L4332.5,1471.2 L4334.5,1471.2 L4336.5,1471.2 L4338.5,1471.2 L4340.5,1471.2 L4342.5,1471.2 L4344.5,1471.2 L4346.5,1471.2 L4348.5,1471.2 L4350.5,1471.2 L4352.5,1471.2 L4354.5,1471.2 L4356.5,1471.2 L4358.5,1471.2 L4360.5,1471.2 L4362.5,1471.2 L4364.5,1471.2 L4366.5,1471.2 L4368.5,1471.2 L4370.5,1471.2 L4372.5,1471.2 L4374.5,1471.2 L4376.5,1471.2 L4378.5,1471.2 L4380.5,1471.2 L4382.5,1471.2 L4384.5,1471.2 L4386.5,1471.2 L4388.5,1471.2 L4390.5,1471.2 L4392.5,1471.2 L4392.7,1471.2" fill="none" stroke="#0072B5" stroke-width="5.20" stroke-linejoin="round"/>
<path d="M3594.5,1128.7 L3596.5,1128.7 L3598.5,1129.2 L3600.5,1129.8 L3602.5,1130.4 L3604.5,1132.5 L3606.5,1135.1 L3608.5,1137.8 L3610.5,1140.6 L3612.5,1143.4 L3614.5,1148.0 L3616.5,1154.0 L3618.5,1159.4 L3620.5,1164.6 L3622.5,1170.2 L3624.5,1176.6 L3626.5,1183.0 L3628.5,1189.4 L3630.5,1195.8 L3632.5,1202.0 L3634.5,1208.0 L3636.5,1214.0 L3638.5,1220.0 L3640.5,1226.0 L3642.5,1231.6 L3644.5,1237.2 L3646.5,1242.3 L3648.5,1247.1 L3650.5,1251.6 L3652.5,1255.6 L3654.5,1259.6 L3656.5,1265.5 L3658.5,1271.8 L3660.5,1281.1 L3662.5,1288.2 L3664.5,1294.2 L3666.5,1298.9 L3668.5,1303.3 L3670.5,1307.6 L3672.5,1311.6 L3674.5,1315.6 L3676.5,1320.0 L3678.5,1324.4 L3680.5,1328.2 L3682.5,1331.9 L3684.5,1335.6 L3686.5,1339.2 L3688.5,1342.9 L3690.5,1346.5 L3692.5,1349.8 L3694.5,1353.2 L3696.5,1356.5 L3698.5,1359.8 L3700.5,1363.2 L3702.5,1366.1 L3704.5,1368.7 L3706.5,1371.3 L3708.5,1373.8 L3710.5,1376.2 L3712.5,1378.5 L3714.5,1380.9 L3716.5,1383.2 L3718.5,1385.3 L3720.5,1387.3 L3722.5,1389.2 L3724.5,1391.0 L3726.5,1392.7 L3728.5,1394.3 L3730.5,1395.8 L3732.5,1397.2 L3734.5,1398.5 L3736.5,1399.9 L3738.5,1401.3 L3740.5,1402.7 L3742.5,1404.1 L3744.5,1405.6 L3746.5,1406.4 L3748.5,1407.0 L3750.5,1407.7 L3752.5,1408.4 L3754.5,1409.0 L3756.5,1409.8 L3758.5,1410.8 L3760.5,1411.8 L3762.5,1412.8 L3764.5,1413.7 L3766.5,1414.5 L3768.5,1415.4 L3770.5,1416.2 L3772.5,1417.0 L3774.5,1417.9 L3776.5,1418.3 L3778.5,1418.7 L3780.5,1419.1 L3782.5,1419.5 L3784.5,1420.0 L3786.5,1421.3 L3788.5,1422.5 L3790.5,1423.8 L3792.5,1424.8 L3794.5,1425.4 L3796.5,1425.9 L3798.5,1426.5 L3800.5,1427.1 L3802.5,1427.6 L3804.5,1427.8 L3806.5,1427.9 L3808.5,1428.0 L3810.5,1428.0 L3812.5,1428.1 L3814.5,1428.2 L3816.5,1428.3 L3818.5,1428.5 L3820.5,1429.4 L3822.5,1430.2 L3824.5,1431.0 L3826.5,1431.9 L3828.5,1432.7 L3830.5,1433.6 L3832.5,1434.6 L3834.5,1435.6 L3836.5,1436.6 L3838.5,1437.6 L3840.5,1437.8 L3842.5,1438.0 L3844.5,1438.1 L3846.5,1438.3 L3848.5,1438.5 L3850.5,1438.6 L3852.5,1438.8 L3854.5,1438.9 L3856.5,1439.4 L3858.5,1440.2 L3860.5,1441.0 L3862.5,1441.8 L3864.5,1442.2 L3866.5,1442.5 L3868.5,1442.8 L3870.5,1443.1 L3872.5,1443.4 L3874.5,1443.9 L3876.5,1444.5 L3878.5,1445.0 L3880.5,1445.6 L3882.5,1446.1 L3884.5,1446.7 L3886.5,1447.3 L3888.5,1447.8 L3890.5,1448.1 L3892.5,1448.2 L3894.5,1448.4 L3896.5,1448.5 L3898.5,1448.7 L3900.5,1448.8 L3902.5,1449.0 L3904.5,1449.6 L3906.5,1450.2 L3908.5,1450.8 L3910.5,1451.4 L3912.5,1451.9 L3914.5,1452.2 L3916.5,1452.5 L3918.5,1452.9 L3920.5,1453.2 L3922.5,1453.5 L3924.5,1453.6 L3926.5,1453.6 L3928.5,1453.6 L3930.5,1453.6 L3932.5,1453.6 L3934.5,1453.6 L3936.5,1453.6 L3938.5,1453.6 L3940.5,1453.6 L3942.5,1453.6 L3944.5,1453.6 L3946.5,1453.6 L3948.5,1453.6 L3950.5,1453.6 L3952.5,1453.6 L3954.5,1453.6 L3956.5,1453.6 L3958.5,1453.6 L3960.5,1453.6 L3962.5,1453.6 L3964.5,1453.6 L3966.5,1453.6 L3968.5,1453.6 L3970.5,1453.6 L3972.5,1454.2 L3974.5,1454.7 L3976.5,1454.7 L3978.5,1454.7 L3980.5,1454.7 L3982.5,1454.7 L3984.5,1454.7 L3986.5,1454.7 L3988.5,1454.7 L3990.5,1454.7 L3992.5,1454.7 L3994.5,1454.7 L3996.5,1454.7 L3998.5,1454.7 L4000.5,1454.7 L4002.5,1454.7 L4004.5,1454.7 L4006.5,1454.7 L4008.5,1454.7 L4010.5,1454.7 L4012.5,1454.7 L4014.5,1454.7 L4016.5,1454.7 L4018.5,1454.7 L4020.5,1454.7 L4022.5,1454.7 L4024.5,1454.7 L4026.5,1454.7 L4028.5,1454.7 L4030.5,1454.7 L4032.5,1454.7 L4034.5,1454.7 L4036.5,1454.7 L4038.5,1454.7 L4040.5,1454.7 L4042.5,1454.7 L4044.5,1454.7 L4046.5,1454.7 L4048.5,1454.7 L4050.5,1454.7 L4052.5,1454.7 L4054.5,1454.7 L4056.5,1454.8 L4058.5,1455.0 L4060.5,1455.3 L4062.5,1455.4 L4064.5,1455.6 L4066.5,1455.8 L4068.5,1456.0 L4070.5,1456.2 L4072.5,1456.4 L4074.5,1456.5 L4076.5,1456.6 L4078.5,1456.8 L4080.5,1456.9 L4082.5,1457.0 L4084.5,1457.1 L4086.5,1457.5 L4088.5,1457.7 L4090.5,1457.7 L4092.5,1457.7 L4094.5,1457.7 L4096.5,1457.7 L4098.5,1457.7 L4100.5,1457.7 L4102.5,1457.7 L4104.5,1457.7 L4106.5,1457.7 L4108.5,1457.7 L4110.5,1457.7 L4112.5,1457.7 L4114.5,1457.7 L4116.5,1457.7 L4118.5,1457.7 L4120.5,1457.7 L4122.5,1457.7 L4124.5,1457.7 L4126.5,1457.7 L4128.5,1457.7 L4130.5,1457.7 L4132.5,1457.7 L4134.5,1457.7 L4136.5,1457.7 L4138.5,1457.7 L4140.5,1457.7 L4142.5,1457.7 L4144.5,1457.7 L4146.5,1457.7 L4148.5,1457.7 L4150.5,1457.7 L4152.5,1457.7 L4154.5,1457.7 L4156.5,1457.7 L4158.5,1457.7 L4160.5,1457.7 L4162.5,1457.7 L4164.5,1457.7 L4166.5,1457.7 L4168.5,1457.7 L4170.5,1457.7 L4172.5,1457.7 L4174.5,1457.7 L4176.5,1457.7 L4178.5,1457.7 L4180.5,1457.7 L4182.5,1457.7 L4184.5,1457.7 L4186.5,1457.7 L4188.5,1457.7 L4190.5,1457.7 L4192.5,1457.7 L4194.5,1457.7 L4196.5,1457.7 L4198.5,1457.7 L4200.5,1457.7 L4202.5,1457.7 L4204.5,1457.7 L4206.5,1457.7 L4208.5,1457.7 L4210.5,1457.7 L4212.5,1457.7 L4214.5,1457.7 L4216.5,1457.7 L4218.5,1457.7 L4220.5,1457.7 L4222.5,1457.7 L4224.5,1457.7 L4226.5,1457.7 L4228.5,1457.7 L4230.5,1457.7 L4232.5,1457.7 L4234.5,1457.7 L4236.5,1457.7 L4238.5,1457.7 L4240.5,1457.7 L4242.5,1457.7 L4244.5,1457.7 L4246.5,1457.7 L4248.5,1457.7 L4250.5,1457.7 L4252.5,1457.7 L4254.5,1457.7 L4256.5,1457.7 L4258.5,1457.7 L4260.5,1457.7 L4262.5,1457.7 L4264.5,1457.7 L4266.5,1457.7 L4268.5,1457.7 L4270.5,1457.7 L4272.5,1457.7 L4274.5,1460.6 L4276.5,1460.9 L4278.5,1460.9 L4280.5,1460.9 L4282.5,1460.9 L4284.5,1460.9 L4286.5,1460.9 L4288.5,1460.9 L4290.5,1460.9 L4292.5,1460.9 L4294.5,1460.9 L4296.5,1460.9 L4298.5,1460.9 L4300.5,1460.9 L4302.5,1460.9 L4304.5,1460.9 L4306.5,1460.9 L4308.5,1460.9 L4310.5,1460.9 L4312.5,1460.9 L4314.5,1460.9 L4316.5,1460.9 L4318.5,1460.9 L4320.5,1460.9 L4322.5,1460.9 L4324.5,1460.9 L4326.5,1460.9 L4328.5,1460.9 L4330.5,1460.9 L4332.5,1460.9 L4334.5,1460.9 L4336.5,1460.9 L4338.5,1460.9 L4340.5,1460.9 L4342.5,1460.9 L4344.5,1460.9 L4346.5,1460.9 L4348.5,1460.9 L4350.5,1460.9 L4352.5,1460.9 L4354.5,1460.9 L4356.5,1460.9 L4358.5,1460.9 L4360.5,1460.9 L4362.5,1460.9 L4364.5,1460.9 L4366.5,1460.9 L4368.5,1460.9 L4370.5,1460.9 L4372.5,1460.9 L4374.5,1460.9 L4376.5,1460.9 L4378.5,1460.9 L4380.5,1460.9 L4382.5,1460.9 L4384.5,1460.9 L4386.5,1460.9 L4388.5,1460.9 L4390.5,1460.9 L4392.5,1460.9 L4392.7,1460.9" fill="none" stroke="#BC3C29" stroke-width="5.00" stroke-linejoin="round"/>
<path d="M3595.6,1128.6v6.9M3713.2,1337.9v7.3M3732.5,1358.4v6.9M3738.6,1361.4v7.1M3747.4,1369.1v6.8M3762.0,1373.8v7.3M3772.5,1378.6v7.0M3791.2,1384.7v7.4M3812.3,1392.6v6.8M3827.7,1400.7v6.7M3840.6,1406.3v6.9M3852.0,1411.6v6.7M3860.6,1414.1v7.4M3871.1,1415.9v6.7M3877.4,1416.6v6.8M3899.0,1420.0v7.1M3913.4,1425.7v7.3M3922.1,1426.4v6.9M3928.3,1426.8v6.8M3948.0,1431.4v6.8M3968.9,1436.7v6.9M3977.2,1439.3v6.5M3996.2,1444.7v7.3M4013.2,1444.8v7.1M4022.8,1445.5v7.1M4032.9,1446.6v6.6M4041.4,1446.1v7.6M4058.1,1446.1v7.6M4075.6,1448.5v7.1M4097.0,1449.5v7.4M4111.1,1455.4v7.0M4123.4,1457.1v6.8M4128.5,1457.1v6.9M4149.0,1459.8v6.9M4156.2,1460.0v6.5M4168.2,1459.8v7.0M4188.9,1462.9v7.2M4204.9,1463.0v6.9M4219.1,1462.8v7.4M4237.9,1463.2v6.6M4249.3,1463.0v7.1M4264.7,1462.8v7.5M4273.7,1467.9v6.6M4281.9,1467.8v6.8M4298.4,1467.8v6.9M4316.7,1467.9v6.6M4333.8,1467.8v6.8M4341.3,1467.8v6.9M4348.5,1467.5v7.4M4358.8,1467.7v7.0M4367.2,1467.5v7.5M4374.0,1467.8v6.9M4379.7,1467.9v6.7" fill="none" stroke="#0072B5" stroke-width="1.35"/>
<path d="M3595.8,1124.9v7.5M3727.6,1390.2v6.7M3741.9,1400.1v7.1M3748.7,1403.8v6.6M3757.5,1407.0v6.6M3774.0,1414.4v6.6M3785.5,1417.1v7.0M3791.6,1421.0v6.6M3796.9,1422.5v7.1M3813.0,1424.8v6.6M3834.8,1432.0v7.6M3840.1,1434.4v6.8M3848.2,1434.9v7.2M3865.8,1438.8v7.2M3877.1,1441.3v6.7M3887.2,1444.1v6.8M3906.7,1447.0v6.6M3925.9,1450.0v7.1M3931.8,1450.2v6.9M3949.3,1449.9v7.4M3959.1,1450.0v7.2M3964.5,1450.3v6.6M3973.9,1451.0v7.2M3994.2,1451.3v6.9M4002.1,1451.4v6.5M4010.1,1450.9v7.5M4022.9,1451.2v7.0M4035.2,1451.1v7.2M4051.6,1451.1v7.2M4060.5,1451.9v6.7M4067.3,1452.2v7.4M4082.5,1453.5v6.9M4089.0,1454.1v7.2M4103.2,1454.3v6.9M4113.7,1453.9v7.5M4133.6,1454.3v6.9M4145.1,1454.3v6.8M4155.7,1454.3v6.8M4166.8,1454.4v6.6M4175.7,1454.3v6.9M4183.6,1454.0v7.5M4196.8,1454.3v6.8M4211.1,1454.4v6.6M4225.5,1454.2v6.9M4241.6,1454.3v6.7M4263.2,1454.3v6.8M4278.8,1457.1v7.6M4299.0,1457.2v7.3M4318.4,1457.3v7.1M4328.2,1457.5v6.7M4333.1,1457.6v6.7M4353.0,1457.5v6.7M4374.4,1457.2v7.4M4379.9,1457.5v6.7" fill="none" stroke="#BC3C29" stroke-width="1.35"/>
<line x1="3556.48" y1="1108.87" x2="3556.48" y2="1545.89" stroke="#000" stroke-width="4.50" />
<line x1="3556.48" y1="1545.89" x2="4393.12" y2="1545.89" stroke="#000" stroke-width="4.50" />
<line x1="3550.34" y1="1128.70" x2="3554.25" y2="1128.70" stroke="#000" stroke-width="4.50" />
<text x="3543.8" y="1140.2" font-size="31.70" text-anchor="end">100%</text>
<line x1="3550.34" y1="1228.01" x2="3554.25" y2="1228.01" stroke="#000" stroke-width="4.50" />
<text x="3543.8" y="1239.5" font-size="31.70" text-anchor="end">75%</text>
<line x1="3550.34" y1="1327.31" x2="3554.25" y2="1327.31" stroke="#000" stroke-width="4.50" />
<text x="3543.8" y="1338.8" font-size="31.70" text-anchor="end">50%</text>
<line x1="3550.34" y1="1426.62" x2="3554.25" y2="1426.62" stroke="#000" stroke-width="4.50" />
<text x="3543.8" y="1438.1" font-size="31.70" text-anchor="end">25%</text>
<line x1="3550.34" y1="1525.93" x2="3554.25" y2="1525.93" stroke="#000" stroke-width="4.50" />
<text x="3543.8" y="1537.4" font-size="31.70" text-anchor="end">0%</text>
<line x1="3594.50" y1="1548.09" x2="3594.50" y2="1552.23" stroke="#000" stroke-width="4.50" />
<text x="3594.5" y="1580.4" font-size="31.70" text-anchor="middle">0</text>
<line x1="3679.03" y1="1548.09" x2="3679.03" y2="1552.23" stroke="#000" stroke-width="4.50" />
<text x="3679.0" y="1580.4" font-size="31.70" text-anchor="middle">1</text>
<line x1="3763.56" y1="1548.09" x2="3763.56" y2="1552.23" stroke="#000" stroke-width="4.50" />
<text x="3763.6" y="1580.4" font-size="31.70" text-anchor="middle">2</text>
<line x1="3848.09" y1="1548.09" x2="3848.09" y2="1552.23" stroke="#000" stroke-width="4.50" />
<text x="3848.1" y="1580.4" font-size="31.70" text-anchor="middle">3</text>
<line x1="3932.62" y1="1548.09" x2="3932.62" y2="1552.23" stroke="#000" stroke-width="4.50" />
<text x="3932.6" y="1580.4" font-size="31.70" text-anchor="middle">4</text>
<line x1="4017.15" y1="1548.09" x2="4017.15" y2="1552.23" stroke="#000" stroke-width="4.50" />
<text x="4017.2" y="1580.4" font-size="31.70" text-anchor="middle">5</text>
<line x1="4101.68" y1="1548.09" x2="4101.68" y2="1552.23" stroke="#000" stroke-width="4.50" />
<text x="4101.7" y="1580.4" font-size="31.70" text-anchor="middle">6</text>
<line x1="4186.21" y1="1548.09" x2="4186.21" y2="1552.23" stroke="#000" stroke-width="4.50" />
<text x="4186.2" y="1580.4" font-size="31.70" text-anchor="middle">7</text>
<line x1="4270.74" y1="1548.09" x2="4270.74" y2="1552.23" stroke="#000" stroke-width="4.50" />
<text x="4270.7" y="1580.4" font-size="31.70" text-anchor="middle">8</text>
<line x1="4355.27" y1="1548.09" x2="4355.27" y2="1552.23" stroke="#000" stroke-width="4.50" />
<text x="4355.3" y="1580.4" font-size="31.70" text-anchor="middle">9</text>
<text x="3974.9" y="1616.2" font-size="32.38" text-anchor="middle">Survival time (Years)</text>
<text transform="translate(3457.0,1327.9) rotate(-90)" font-size="32.15" text-anchor="middle">Cumulative survival probability</text>
<text x="3974.6" y="1087.4" font-size="45.42" text-anchor="middle" font-weight="bold">Stage IV</text>
<line x1="4138.82" y1="1152.85" x2="4170.84" y2="1152.85" stroke="#0072B5" stroke-width="5.13" />
<line x1="4154.74" y1="1149.03" x2="4154.74" y2="1156.67" stroke="#0072B5" stroke-width="1.35" />
<text x="4187.6" y="1163.5" font-size="29.91" text-anchor="start">Northern center</text>
<line x1="4138.82" y1="1192.42" x2="4170.84" y2="1192.42" stroke="#BC3C29" stroke-width="5.13" />
<line x1="4154.74" y1="1188.60" x2="4154.74" y2="1196.24" stroke="#BC3C29" stroke-width="1.35" />
<text x="4187.6" y="1203.2" font-size="29.91" text-anchor="start">Southern center</text>
<text x="3646.7" y="1452.7" font-size="32.51" text-anchor="start">Log</text>
<line x1="3708.59" y1="1444.21" x2="3724.73" y2="1444.21" stroke="#000" stroke-width="1.30" />
<text x="3731.1" y="1452.7" font-size="32.51" text-anchor="start">rank</text>
<text x="3610.1" y="1503.0" font-size="32.51"><tspan font-style="italic">P</tspan> value</text>
<line x1="3726.40" y1="1494.22" x2="3743.04" y2="1494.22" stroke="#000" stroke-width="1.35" />
<line x1="3726.40" y1="1499.93" x2="3743.04" y2="1499.93" stroke="#000" stroke-width="1.35" />
<text x="3751.1" y="1503.0" font-size="32.51" text-anchor="start">0.056</text>
<text x="3438.1" y="1671.7" font-size="32.38" text-anchor="start">No. at risk</text>
<rect x="3466.38" y="1705.67" width="30.62" height="9.89" fill="#0072B5"/>
<rect x="3466.38" y="1739.57" width="30.62" height="9.89" fill="#BC3C29"/>
<text x="3551.6" y="1720.5" font-size="25.81" text-anchor="middle">436</text>
<text x="3640.5" y="1720.5" font-size="25.81" text-anchor="middle">253</text>
<text x="3729.5" y="1720.5" font-size="25.81" text-anchor="middle">149</text>
<text x="3818.5" y="1720.5" font-size="25.81" text-anchor="middle">109</text>
<text x="3907.5" y="1720.5" font-size="25.81" text-anchor="middle">83</text>
<text x="3996.5" y="1720.5" font-size="25.81" text-anchor="middle">51</text>
<text x="4085.5" y="1720.5" font-size="25.81" text-anchor="middle">32</text>
<text x="4174.5" y="1720.5" font-size="25.81" text-anchor="middle">19</text>
<text x="4263.5" y="1720.5" font-size="25.81" text-anchor="middle">12</text>
<text x="4352.5" y="1720.5" font-size="25.81" text-anchor="middle">4</text>
<text x="3551.6" y="1754.2" font-size="25.81" text-anchor="middle">430</text>
<text x="3640.5" y="1754.2" font-size="25.81" text-anchor="middle">220</text>
<text x="3729.5" y="1754.2" font-size="25.81" text-anchor="middle">115</text>
<text x="3818.5" y="1754.2" font-size="25.81" text-anchor="middle">86</text>
<text x="3907.5" y="1754.2" font-size="25.81" text-anchor="middle">64</text>
<text x="3996.5" y="1754.2" font-size="25.81" text-anchor="middle">56</text>
<text x="4085.5" y="1754.2" font-size="25.81" text-anchor="middle">48</text>
<text x="4174.5" y="1754.2" font-size="25.81" text-anchor="middle">36</text>
<text x="4263.5" y="1754.2" font-size="25.81" text-anchor="middle">23</text>
<text x="4352.5" y="1754.2" font-size="25.81" text-anchor="middle">15</text>
<rect x="3355.8" y="1070.9" width="60.4" height="85.6" fill="none" stroke="#000" stroke-width="8.0"/>
<text x="3385.2" y="1128.1" font-size="45.50" text-anchor="middle">5</text>
<text x="1605.5" y="2002.0" font-size="57.0" text-anchor="start" textLength="1209.0" lengthAdjust="spacing">Indirect effect: HR = 0.78 (0.76–0.80), <tspan font-style="italic">P</tspan> &lt; 0.001</text>
<rect x="1853.6" y="2039.5" width="715.0" height="115.0" fill="#fff" stroke="#000" stroke-width="5.0" stroke-linejoin="round"/>
<text x="2211.3" y="2123.4" font-size="76" text-anchor="middle">Tumor TNM stage</text>
<text x="2213.7" y="2220.6" font-size="57.3" text-anchor="middle">(mediator)</text>
<text x="1858.5" y="2332.8" font-size="57.0" text-anchor="start" textLength="715.0" lengthAdjust="spacing">Mediation proportion: 77.7%</text>
<text x="1776.5" y="2400.9" font-size="57.0" text-anchor="start" textLength="890.0" lengthAdjust="spacing">(95% CI: 59.4%–96.1%, <tspan font-style="italic">P</tspan> &lt; 0.001)</text>
<text x="1624.5" y="2746.5" font-size="57.0" text-anchor="start" textLength="1174.0" lengthAdjust="spacing">Direct effect: HR = 0.94 (0.88–1.00), <tspan font-style="italic">P</tspan> = 0.053</text>
<rect x="989.7" y="2775.8" width="715.2" height="115.0" fill="#fff" stroke="#000" stroke-width="5.0" stroke-linejoin="round"/>
<text x="1347.3" y="2859.7" font-size="76" text-anchor="middle">Center</text>
<text x="1347.3" y="2956.9" font-size="57.3" text-anchor="middle">(exposure)</text>
<rect x="2718.5" y="2775.8" width="715.0" height="115.0" fill="#fff" stroke="#000" stroke-width="5.0" stroke-linejoin="round"/>
<text x="3074.0" y="2860.7" font-size="76" text-anchor="middle">Mortality</text>
<text x="3076.0" y="2956.9" font-size="57.3" text-anchor="middle">(outcome)</text>
<text x="1643.5" y="2971.9" font-size="57.0" text-anchor="start" textLength="1141.0" lengthAdjust="spacing">Total effect: HR = 0.73 (0.69–0.78), <tspan font-style="italic">P</tspan> &lt; 0.001</text>
<line x1="1349.80" y1="2774.00" x2="1844.22" y2="2110.79" stroke="#000" stroke-width="5.90" />
<polygon points="1853.3,2098.6 1834.3,2108.2 1849.6,2119.5" fill="#000"/>
<line x1="2570.90" y1="2098.40" x2="3064.92" y2="2761.81" stroke="#000" stroke-width="5.90" />
<polygon points="3074.0,2774.0 3070.3,2753.1 3055.0,2764.4" fill="#000"/>
<line x1="1706.00" y1="2795.30" x2="2701.70" y2="2795.30" stroke="#000" stroke-width="4.70" />
<polygon points="2716.5,2795.3 2698.0,2786.1 2698.0,2804.6" fill="#000"/>
<line x1="1706.00" y1="2862.30" x2="2699.70" y2="2862.30" stroke="#000" stroke-width="9.00" />
<polygon points="2716.5,2862.3 2695.5,2852.0 2695.5,2872.6" fill="#000"/>
</svg>
</body></html>
